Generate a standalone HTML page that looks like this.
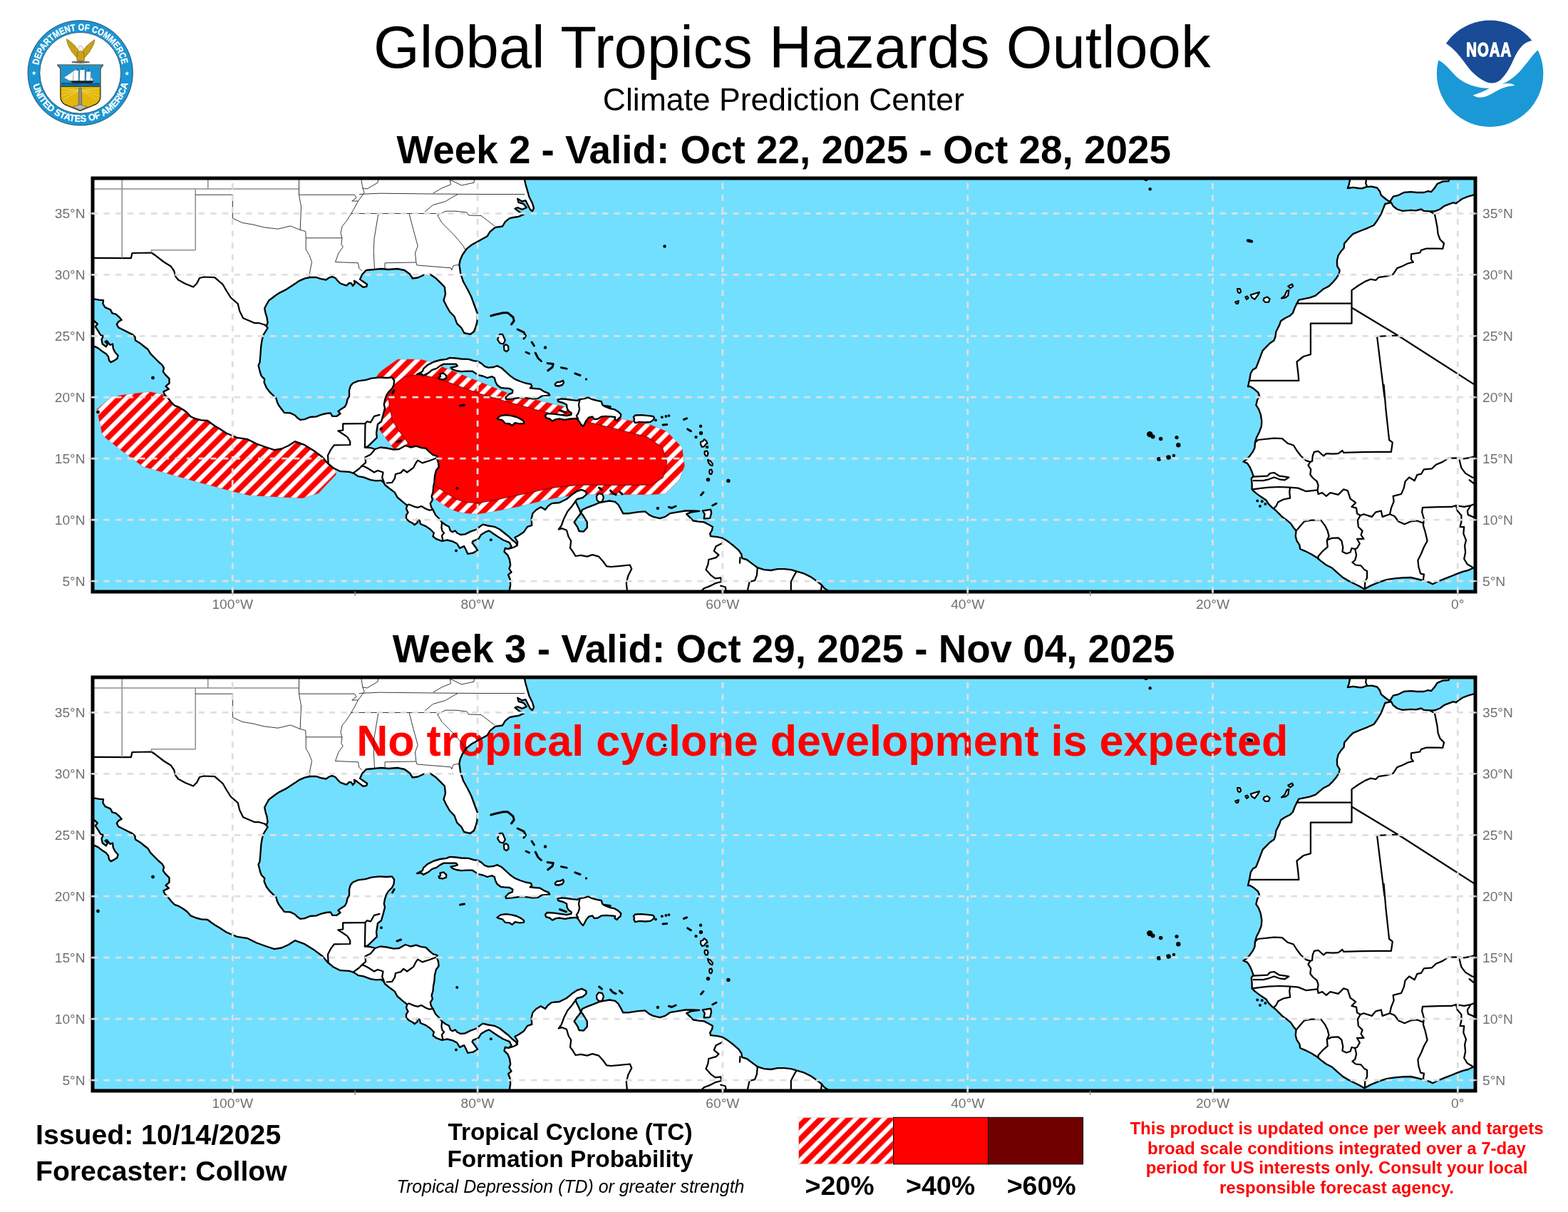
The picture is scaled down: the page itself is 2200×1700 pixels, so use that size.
<!DOCTYPE html>
<html lang="en"><head><meta charset="utf-8"><title>Global Tropics Hazards Outlook</title>
<style>html,body{margin:0;padding:0;background:#fff}body{width:2200px;height:1700px;overflow:hidden}svg{display:block}text{font-family:"Liberation Sans",sans-serif}</style></head><body>
<svg width="2200" height="1700" viewBox="0 0 2200 1700">
<defs>
<pattern id="hm" patternUnits="userSpaceOnUse" x="11.20" y="0" width="19.7" height="19.7"><rect width="19.7" height="19.7" fill="#fff"/><path d="M0 0H11.0L0 11.0Z M19.7 0V11.0L11.0 19.7H0Z" fill="#ff0000"/></pattern>
<pattern id="hl" patternUnits="userSpaceOnUse" x="16.20" y="0" width="19.7" height="19.7"><rect width="19.7" height="19.7" fill="#fff"/><path d="M0 0H11.0L0 11.0Z M19.7 0V11.0L11.0 19.7H0Z" fill="#ff0000"/></pattern>
<clipPath id="clip"><rect x="130" y="250" width="1940" height="580"/></clipPath>
</defs>
<rect width="2200" height="1700" fill="#fff"/>
<g id="header">
<text x="1111.3" y="95.2" font-size="83.2" text-anchor="middle">Global Tropics Hazards Outlook</text>
<text x="1099.3" y="154.5" font-size="44.5" text-anchor="middle">Climate Prediction Center</text>
<text x="1099.7" y="229" font-size="54.8" font-weight="bold" text-anchor="middle">Week 2 - Valid: Oct 22, 2025 - Oct 28, 2025</text>
<text x="1099.6" y="929.3" font-size="54.75" font-weight="bold" text-anchor="middle">Week 3 - Valid: Oct 29, 2025 - Nov 04, 2025</text>
<g id="doc" transform="translate(30 20) scale(0.098338)">
<circle cx="841" cy="837" r="749" fill="#1b96d3" stroke="#14304a" stroke-width="8"/>
<circle cx="841" cy="837" r="579" fill="#fff" stroke="#14304a" stroke-width="8"/>
<path id="docTop" d="M244.2 726.4A607 607 0 0 1 1435.6 714.9" fill="none"/>
<path id="docBot" d="M164.0 1007.0A698 698 0 0 0 1523.2 984.5" fill="none"/>
<text font-size="134" font-weight="bold" fill="#fff" stroke="#fff" stroke-width="3" textLength="1673" lengthAdjust="spacingAndGlyphs"><textPath href="#docTop" textLength="1673" lengthAdjust="spacingAndGlyphs">DEPARTMENT OF COMMERCE</textPath></text>
<text font-size="134" font-weight="bold" fill="#fff" stroke="#fff" stroke-width="3" textLength="1872" lengthAdjust="spacingAndGlyphs"><textPath href="#docBot" textLength="1872" lengthAdjust="spacingAndGlyphs">UNITED STATES OF AMERICA</textPath></text>
<polygon points="180,806 188,829 212,829 193,844 200,868 180,854 160,868 167,844 148,829 172,829" fill="#fff"/>
<polygon points="1507,811 1515,834 1539,834 1520,849 1527,873 1507,859 1487,873 1494,849 1475,834 1499,834" fill="#fff"/>
<g stroke="#6b5200" stroke-width="6" stroke-linejoin="round" fill="#c9a216">
<path d="M645 352L705 395L765 450L805 505L822 560L812 625L775 602L722 540L680 468L655 410Z"/>
<path d="M1045 362L987 405L928 455L888 508L872 560L882 625L918 602L970 540L1012 468L1037 415Z"/>
<path d="M800 545Q845 500 890 545L900 640Q905 665 880 668L812 668Q785 665 792 640Z"/>
</g>
<path d="M812 470Q845 430 878 470L885 515Q845 540 808 515Z" fill="#f4f1e4" stroke="#8a7a50" stroke-width="5"/>
<ellipse cx="845" cy="683" rx="130" ry="15" fill="#3b3b3b"/>
<path d="M740 683h210" stroke="#ddd" stroke-width="6"/>
<path d="M515 722H1165L1128 778V1170Q1128 1250 1060 1285L838 1378L616 1285Q558 1250 558 1170V778Z" fill="#e2b708" stroke="#1a1a1a" stroke-width="12" stroke-linejoin="round"/>
<path d="M521 728H1159L1122 780V1030H564V780Z" fill="#1b96d3"/>
<path d="M564 975H1122V1030H564Z" fill="#1273a8"/>
<path d="M564 1030H1122" stroke="#1a1a1a" stroke-width="8"/>
<g stroke="#f8e58a" stroke-width="7" opacity=".8">
<path d="M838 1085L575 1060M838 1085L575 1110M838 1085L580 1160M838 1085L600 1215M838 1085L1105 1060M838 1085L1105 1110M838 1085L1100 1160M838 1085L1080 1215"/>
</g>
<path d="M818 1060Q838 1035 858 1060L862 1300H814Z" fill="#8d8d8d" stroke="#4a4a4a" stroke-width="6"/>
<path d="M735 1318L838 1290L940 1318L838 1368Z" fill="#b9b9b9" stroke="#4a4a4a" stroke-width="6"/>
<g fill="#fff" stroke="#39506a" stroke-width="5" stroke-linejoin="round">
<path d="M605 905L790 775V950L700 955Z"/>
<path d="M745 800H815V950H735Z"/>
<path d="M835 790H905V950H828Z"/>
<path d="M925 815H990V950H920Z"/>
<path d="M990 880L1030 950H985Z"/>
</g>
<path d="M868 755V790M960 780V815M795 765V800" stroke="#222" stroke-width="5"/>
<path d="M690 950H1035L1005 982H735Z" fill="#1a1a1a"/>
<path d="M575 990Q640 975 700 992T830 992T960 992T1110 990" stroke="#0a3a5a" stroke-width="8" fill="none"/>
</g>
<g id="noaa" transform="translate(2008 20) scale(0.098338)">
<circle cx="840" cy="846" r="760" fill="#fff"/>
<clipPath id="nc"><circle cx="840" cy="846" r="760"/></clipPath>
<g clip-path="url(#nc)">
<path d="M215 420C300 470 400 575 500 720C590 850 700 930 800 970C860 992 930 985 990 935C1050 885 1110 790 1160 680C1220 545 1290 400 1440 375L1500 0H100Z" fill="#194b96"/>
<path d="M105 655C190 690 260 790 360 890C480 1000 640 1050 830 1058C760 1100 680 1128 595 1155C640 1192 720 1200 800 1165C890 1125 960 1070 1060 1040C1120 1025 1160 1020 1190 1020C1185 990 1100 975 1010 995C1100 960 1180 900 1260 820C1350 720 1430 600 1515 515L1700 500V1700H0V640Z" fill="#1b98d6"/>
</g>
<text transform="translate(826 598) scale(0.76 1)" font-size="272" font-weight="bold" fill="#fff" stroke="#fff" stroke-width="14" stroke-linejoin="miter" text-anchor="middle" letter-spacing="14">NOAA</text>
</g>
</g>

<g transform="translate(0 0)">
<rect x="130" y="250" width="1940" height="580" fill="#73dfff"/>
<g clip-path="url(#clip)">
<path d="M210.1 549.5 L232.6 554.2 L251.4 564.5 L289.0 585.1 L326.5 600.1 L382.8 615.2 L420.4 611.4 L454.2 637.7 L471.4 661.7 L471.1 665.9 L446.6 692.1 L424.1 698.7 L409.1 698.1 L350.9 694.9 L326.5 689.3 L273.9 675.2 L200.7 654.6 L182.0 640.5 L166.9 629.2 L148.2 614.2 L143.5 609.5 L136.0 573.9 L157.5 556.0 L182.0 552.8Z" fill="url(#hm)" stroke="#a00" stroke-opacity=".35" stroke-width=".6"/>
<path d="M528.1 528.8 L532.5 521.9 L558.1 504.0 L590.0 504.0 L603.1 507.5 L621.2 514.8 L713.8 551.9 L790.0 570.0 L865.0 586.2 L890.0 591.2 L911.6 595.6 L935.6 605.3 L956.9 627.6 L960.4 653.3 L953.3 672.9 L933.8 692.4 L912.5 693.8 L863.0 693.8 L827.5 693.8 L802.5 695.0 L777.5 698.8 L752.5 704.4 L727.5 710.6 L702.5 715.6 L685.0 718.8 L670.0 721.0 L655.0 720.0 L642.5 718.1 L631.2 713.8 L617.5 705.0 L607.5 697.5 L595.0 682.5 L575.0 660.0 L551.2 628.1 L531.2 601.2 L525.0 570.0Z" fill="url(#hm)" stroke="#a00" stroke-opacity=".35" stroke-width=".6"/>
<path d="M555.0 538.1 L567.5 528.1 L585.0 525.6 L598.8 527.2 L615.0 531.2 L627.5 535.6 L670.0 551.2 L715.0 564.4 L765.0 578.1 L825.0 591.9 L863.0 601.2 L895.0 609.5 L908.9 613.3 L929.3 627.6 L936.0 647.6 L930.2 670.2 L913.8 680.0 L900.0 680.4 L863.0 680.6 L815.0 680.2 L795.0 681.9 L770.0 685.0 L740.0 691.9 L715.0 696.9 L690.0 702.5 L670.0 705.6 L655.0 704.8 L642.5 701.2 L631.2 695.0 L610.0 681.2 L605.0 660.0 L576.2 626.2 L560.0 605.0 L550.6 590.0 L546.2 568.8 L545.0 557.5 L548.8 547.5Z" fill="#ff0000" stroke="#200" stroke-opacity=".85" stroke-width=".8"/>
<g fill="#fff">
<path d="M128.0 248.0 L747.5 248.0 L735.0 247.5 L737.5 258.8 L740.0 267.5 L742.5 276.2 L746.9 285.0 L749.0 291.9 L746.9 296.2 L743.8 293.8 L740.0 286.2 L737.5 281.2 L732.5 282.5 L726.2 278.8 L727.5 283.8 L735.0 286.2 L738.8 291.2 L732.5 293.8 L726.2 291.2 L722.5 292.5 L728.8 297.5 L735.0 300.6 L727.5 303.8 L720.0 305.0 L715.0 306.2 L708.8 311.2 L705.0 317.5 L695.0 318.8 L687.5 325.0 L683.8 331.2 L672.5 337.5 L661.2 343.8 L655.0 348.8 L648.8 357.5 L645.6 365.0 L644.4 371.2 L646.2 383.8 L650.0 395.0 L656.2 406.2 L661.2 416.2 L666.2 430.0 L670.0 440.0 L669.4 451.2 L668.1 456.0 L668.8 455.0 L665.0 465.0 L660.0 468.8 L651.2 467.0 L647.5 460.0 L641.2 453.8 L637.5 443.8 L631.2 437.5 L626.2 428.8 L622.5 421.2 L625.0 412.5 L623.8 402.5 L617.5 396.2 L611.2 390.0 L603.8 385.0 L595.0 385.5 L586.2 389.5 L578.8 390.5 L575.0 384.5 L567.5 379.0 L557.5 377.0 L545.0 378.0 L535.0 377.0 L525.0 378.0 L513.8 379.0 L508.1 385.0 L505.0 391.9 L515.0 398.8 L514.4 401.9 L509.4 402.8 L500.0 395.6 L496.9 393.8 L497.8 397.5 L495.0 401.0 L493.1 397.5 L490.0 396.9 L486.2 400.6 L482.5 399.4 L477.5 397.5 L473.8 393.8 L470.6 390.0 L466.2 388.1 L461.9 389.4 L457.5 392.5 L450.0 391.2 L443.8 389.0 L435.0 389.0 L427.5 390.6 L420.0 393.8 L413.8 398.1 L406.2 403.1 L400.0 406.9 L392.5 410.6 L387.5 413.8 L382.5 417.5 L377.5 421.2 L373.8 427.5 L371.2 432.5 L372.5 438.8 L374.4 445.0 L375.6 452.5 L373.8 457.5 L375.6 460.0 L372.5 465.0 L369.4 470.0 L367.5 477.5 L366.2 486.2 L365.6 495.0 L365.0 502.5 L364.4 508.8 L362.5 512.5 L363.8 517.5 L365.0 522.5 L366.9 527.5 L371.2 531.9 L370.6 536.2 L373.8 543.8 L377.5 548.8 L382.5 553.8 L387.5 558.8 L388.8 563.8 L391.2 568.8 L395.0 573.8 L398.8 578.8 L407.5 579.4 L413.8 582.5 L417.5 586.2 L421.2 588.8 L427.5 588.1 L435.0 585.0 L443.8 584.4 L450.0 581.9 L457.5 580.0 L463.8 579.4 L466.2 583.8 L472.5 583.8 L477.5 580.0 L474.4 576.9 L478.8 573.8 L483.8 570.6 L486.2 566.2 L487.5 560.0 L490.0 556.2 L490.0 547.5 L491.9 541.2 L495.0 537.5 L502.5 534.4 L512.5 533.1 L521.2 530.6 L532.5 529.4 L542.5 530.0 L550.0 529.4 L553.1 533.8 L552.5 540.0 L550.0 545.0 L545.0 550.0 L541.9 555.0 L540.0 561.2 L538.8 567.5 L540.0 572.5 L538.1 580.0 L535.0 591.2 L530.0 595.0 L528.1 607.5 L528.8 613.8 L522.5 620.0 L516.2 626.2 L511.9 627.5 L520.0 628.1 L526.2 630.0 L533.8 627.5 L542.5 628.5 L552.5 630.6 L560.0 630.0 L568.8 625.0 L576.2 627.5 L583.8 625.6 L591.2 628.1 L597.5 628.8 L602.5 633.8 L607.5 638.1 L613.8 640.0 L612.5 642.5 L615.0 648.8 L615.6 655.0 L611.9 660.0 L610.0 667.5 L609.4 676.2 L608.1 682.5 L607.5 690.0 L605.6 696.2 L606.9 701.2 L603.8 706.2 L605.0 711.2 L608.1 716.2 L611.2 722.5 L616.2 727.5 L620.0 732.5 L625.0 736.2 L630.0 738.8 L631.9 744.4 L635.0 746.2 L638.8 744.4 L641.2 747.5 L646.2 750.0 L652.5 749.4 L660.0 745.6 L668.8 742.5 L673.8 738.1 L677.5 735.6 L685.0 737.5 L693.8 738.8 L701.2 742.5 L707.5 747.5 L713.8 752.5 L718.8 757.5 L723.8 761.2 L725.6 765.0 L726.2 760.0 L722.5 753.8 L727.5 751.2 L735.0 746.2 L740.0 738.8 L746.2 736.9 L745.6 727.5 L747.5 720.0 L752.5 715.0 L758.8 711.2 L765.0 715.0 L768.8 710.0 L773.8 706.2 L785.0 705.0 L795.0 700.0 L802.5 693.8 L810.0 688.8 L816.2 686.9 L822.5 690.0 L822.5 693.8 L817.5 698.1 L810.0 700.0 L807.5 702.5 L808.8 706.2 L812.5 713.8 L815.0 720.0 L816.9 715.0 L823.8 711.9 L833.8 708.1 L841.2 705.0 L847.5 703.8 L855.0 702.5 L863.0 703.8 L867.6 708.0 L871.3 714.6 L874.2 720.2 L882.6 720.2 L893.9 718.3 L905.1 717.4 L910.8 722.1 L916.4 724.9 L925.8 727.2 L933.3 724.9 L939.9 720.2 L950.2 718.3 L961.4 716.5 L972.7 716.5 L981.2 716.8 L969.0 718.7 L963.3 721.2 L967.1 724.9 L972.7 730.5 L980.2 731.5 L987.7 732.4 L995.2 736.2 L999.9 739.0 L999.0 743.7 L996.2 748.4 L997.1 752.1 L1006.5 753.1 L1014.0 754.9 L1021.5 759.6 L1029.0 765.3 L1036.5 771.8 L1040.3 777.5 L1041.2 783.1 L1047.8 785.0 L1055.3 790.6 L1062.8 796.2 L1072.2 799.1 L1081.6 800.0 L1091.0 798.1 L1100.4 798.1 L1109.8 799.1 L1119.1 801.9 L1128.5 804.7 L1137.9 809.4 L1147.3 816.0 L1152.9 820.7 L1156.7 825.3 L1164.2 830.0 L1164.0 834.0 L715.0 834.0 L715.0 827.5 L716.2 820.0 L715.6 812.5 L713.1 806.2 L717.5 802.5 L714.4 797.5 L716.2 792.5 L715.0 785.0 L712.5 778.8 L707.5 773.8 L708.8 768.8 L713.8 770.0 L717.5 766.2 L715.0 761.2 L706.2 757.5 L700.0 753.8 L692.5 748.8 L686.2 744.4 L681.2 746.2 L675.0 750.0 L671.2 756.2 L663.8 758.8 L662.5 761.2 L666.2 766.2 L670.0 771.9 L663.8 775.6 L656.2 776.9 L653.8 771.2 L651.2 766.2 L645.0 768.8 L641.2 762.5 L635.0 759.4 L627.5 757.5 L620.0 758.8 L612.5 756.2 L607.5 752.5 L608.8 747.5 L603.8 742.5 L597.5 738.1 L590.0 735.0 L588.8 730.0 L585.0 728.8 L586.2 732.5 L581.9 736.2 L578.8 733.8 L573.8 731.2 L570.0 727.5 L570.0 722.5 L572.5 718.8 L570.0 713.8 L571.2 708.8 L565.0 703.8 L557.5 697.5 L553.8 690.6 L546.2 685.0 L540.0 680.0 L538.8 677.5 L535.0 673.8 L527.5 674.4 L520.0 673.1 L510.0 669.4 L502.5 668.1 L496.2 663.8 L490.0 661.9 L477.5 661.2 L467.5 656.2 L460.0 650.0 L452.5 641.2 L440.0 631.9 L427.5 624.2 L413.8 619.2 L405.0 625.0 L395.0 629.5 L385.0 631.2 L372.5 627.0 L360.0 622.5 L347.5 616.2 L332.5 613.8 L317.5 607.5 L307.5 601.0 L302.5 598.1 L296.2 593.8 L291.2 590.0 L282.5 589.4 L275.0 587.5 L267.5 584.4 L262.5 578.8 L257.5 575.0 L251.2 571.2 L245.0 568.8 L240.0 563.8 L235.0 557.5 L231.2 553.8 L229.4 549.4 L236.9 545.6 L232.5 541.9 L237.5 537.5 L237.5 531.2 L232.5 526.2 L228.8 521.2 L230.0 516.2 L227.5 511.9 L222.5 507.5 L217.5 502.5 L211.2 496.2 L207.5 490.0 L202.5 486.2 L196.2 481.2 L190.0 477.5 L189.4 472.5 L186.2 469.4 L177.5 465.0 L172.5 462.5 L166.2 459.4 L163.8 455.0 L166.2 451.2 L170.6 448.8 L167.5 445.0 L162.5 440.6 L157.5 439.4 L155.0 434.4 L147.5 431.2 L144.4 426.2 L145.0 421.2 L138.8 420.6 L131.9 419.4 L126.2 419.0Z"/>
<path d="M126.2 448.8 L131.9 450.0 L136.9 454.4 L133.8 458.1 L137.5 463.8 L141.2 470.0 L145.0 471.2 L142.5 476.2 L143.8 482.5 L148.8 486.2 L151.2 482.5 L147.5 479.4 L150.0 478.1 L154.4 483.8 L158.1 482.5 L158.8 488.8 L161.2 493.8 L165.6 498.8 L164.4 503.1 L160.6 505.6 L155.6 508.1 L153.1 505.6 L151.9 500.0 L148.8 496.2 L143.8 493.1 L137.5 488.1 L131.9 485.6 L126.2 485.0Z"/>
<path d="M2073.0 272.9 L2067.7 273.4 L2059.8 275.7 L2052.3 278.5 L2046.7 282.2 L2042.9 285.4 L2039.2 284.1 L2031.7 286.9 L2026.0 289.2 L2020.4 293.5 L2012.9 296.3 L2005.4 296.3 L1997.9 295.9 L1994.1 293.5 L1986.6 295.4 L1979.1 294.8 L1967.8 295.9 L1960.3 293.5 L1954.7 289.2 L1951.9 284.1 L1943.4 286.0 L1941.6 290.7 L1937.8 300.1 L1932.2 309.5 L1927.5 316.0 L1919.0 319.8 L1909.6 323.5 L1898.4 328.2 L1892.7 333.9 L1886.2 341.4 L1885.6 347.9 L1881.5 352.6 L1877.7 358.3 L1875.9 365.8 L1876.2 373.3 L1879.6 378.9 L1878.7 384.6 L1874.9 390.2 L1870.2 395.8 L1864.6 401.4 L1857.1 405.2 L1851.4 409.9 L1845.8 414.6 L1838.3 417.4 L1828.9 419.3 L1822.3 420.6 L1819.5 425.9 L1816.7 431.5 L1813.9 439.0 L1810.1 442.7 L1802.6 446.5 L1797.0 450.3 L1795.1 455.9 L1792.3 461.5 L1790.4 465.3 L1789.5 471.8 L1787.6 477.5 L1782.0 481.2 L1776.4 486.9 L1771.7 491.6 L1768.8 499.1 L1766.0 506.6 L1762.3 516.0 L1757.6 518.8 L1754.8 523.5 L1753.5 531.0 L1751.0 542.2 L1753.8 541.9 L1759.5 545.6 L1765.1 550.3 L1767.0 555.0 L1764.2 560.7 L1762.3 568.2 L1766.0 573.8 L1768.8 581.3 L1770.3 590.7 L1769.8 598.2 L1767.0 605.7 L1763.2 613.2 L1761.0 620.7 L1760.4 628.2 L1757.6 633.9 L1752.9 640.4 L1748.2 645.1 L1744.4 647.4 L1750.1 649.8 L1753.8 655.5 L1756.6 662.0 L1758.5 667.7 L1755.7 671.4 L1756.6 678.9 L1756.6 686.4 L1760.4 690.2 L1765.1 693.9 L1770.7 697.7 L1776.4 701.4 L1780.1 707.1 L1784.8 711.8 L1789.5 715.5 L1794.2 720.2 L1798.9 724.9 L1805.5 729.6 L1811.1 734.3 L1814.8 739.9 L1818.6 744.6 L1817.7 752.1 L1819.5 758.7 L1823.3 764.3 L1824.2 770.0 L1830.8 772.8 L1840.2 777.5 L1847.7 782.2 L1853.3 786.9 L1860.8 792.5 L1868.3 796.2 L1875.9 802.8 L1883.4 809.4 L1890.9 814.1 L1900.3 818.8 L1907.8 822.5 L1914.3 826.3 L1922.8 821.6 L1934.0 816.9 L1945.3 813.1 L1956.6 811.3 L1967.8 810.3 L1979.1 810.0 L1988.5 812.2 L1997.9 814.5 L2005.4 816.9 L2010.1 819.3 L2016.6 816.0 L2026.0 812.2 L2035.4 808.5 L2044.8 804.7 L2052.3 801.9 L2059.8 800.0 L2067.7 796.2 L2073.0 795.3Z"/>
<path d="M1894.6 249.4 L1892.7 258.8 L1890.9 264.0 L1898.4 262.9 L1905.9 264.0 L1910.6 264.4 L1917.2 262.2 L1924.7 261.6 L1932.2 263.5 L1935.9 268.2 L1937.8 273.8 L1943.4 278.5 L1950.0 283.2 L1954.7 275.7 L1962.2 273.8 L1969.7 270.0 L1979.1 269.1 L1988.5 270.0 L1997.9 270.0 L2003.5 268.2 L2008.2 269.1 L2012.9 263.5 L2016.6 257.8 L2024.2 254.6 L2032.6 254.1 L2033.5 249.4Z"/>
<path d="M585.0 525.0 L592.5 521.2 L594.4 516.9 L600.0 511.9 L608.8 507.5 L617.5 505.0 L626.2 503.8 L631.2 501.9 L640.0 502.5 L647.5 503.5 L657.5 503.8 L665.0 506.2 L670.0 506.9 L675.0 509.4 L680.0 513.8 L685.0 515.6 L692.5 515.0 L697.5 513.1 L703.8 516.2 L710.0 521.9 L716.2 527.5 L722.5 531.9 L730.0 535.0 L737.5 537.5 L745.0 538.8 L746.2 541.9 L743.8 544.4 L750.0 545.0 L757.5 545.6 L763.8 549.4 L770.0 551.9 L771.2 554.4 L766.2 555.0 L760.0 555.6 L755.0 558.8 L747.5 559.4 L737.5 558.1 L727.5 558.1 L717.5 559.4 L710.0 560.0 L709.4 557.5 L713.8 553.1 L718.8 551.2 L719.4 547.5 L715.0 545.0 L707.5 544.4 L702.5 543.8 L697.5 540.0 L695.0 535.0 L693.8 530.0 L690.0 528.1 L683.8 530.0 L677.5 527.5 L671.2 526.2 L667.5 523.8 L662.5 520.6 L655.0 520.6 L647.5 521.2 L640.0 520.0 L635.0 518.1 L632.5 515.6 L638.8 514.4 L641.9 513.1 L640.0 510.6 L632.5 510.6 L622.5 510.6 L617.5 513.1 L612.5 516.9 L606.2 518.8 L601.2 523.1 L593.8 526.9 L591.2 524.4Z"/>
<path d="M617.5 524.4 L622.5 523.5 L626.2 526.9 L626.0 530.6 L621.2 532.5 L616.2 531.5 L615.6 529.4 L618.1 528.1Z"/>
<path d="M697.5 586.9 L702.5 583.1 L710.0 582.2 L717.5 583.1 L725.0 585.0 L731.2 588.1 L735.0 591.2 L735.0 593.8 L728.8 594.4 L722.5 593.1 L718.8 596.9 L715.0 594.4 L708.8 593.8 L705.0 589.4 L700.0 588.1Z"/>
<path d="M782.5 560.6 L787.5 559.4 L795.0 560.0 L802.5 561.2 L810.0 561.9 L813.8 560.0 L821.2 558.8 L825.0 557.5 L830.0 559.8 L837.5 561.9 L843.8 563.1 L845.0 567.5 L848.1 570.0 L856.2 573.1 L862.5 574.4 L867.5 577.5 L871.2 581.2 L870.6 585.0 L867.5 587.5 L865.6 590.0 L862.5 588.1 L863.1 585.0 L857.5 584.4 L850.0 583.8 L843.8 584.4 L838.8 587.5 L833.8 588.1 L831.2 584.4 L826.2 585.6 L822.5 590.0 L820.0 595.0 L818.1 598.1 L815.0 595.0 L811.9 590.0 L808.8 586.9 L800.0 587.5 L792.5 588.8 L785.0 587.5 L780.0 588.1 L775.0 590.6 L771.2 587.5 L766.2 586.2 L765.0 583.1 L767.5 580.0 L777.5 580.6 L786.2 581.9 L795.0 583.1 L801.2 581.9 L801.9 579.4 L797.5 576.2 L795.6 572.5 L795.0 567.5 L790.0 565.0 L783.1 563.1Z"/>
<path d="M888.8 585.0 L891.2 582.5 L900.0 582.2 L910.0 583.1 L916.2 583.8 L918.1 586.2 L916.2 589.4 L912.5 591.9 L905.0 592.5 L897.5 591.9 L891.2 593.1 L889.4 590.0 L890.0 587.5Z"/>
<path d="M985.9 716.5 L997.1 714.6 L998.1 719.3 L996.2 726.8 L987.7 727.4 L988.7 721.2Z"/>
<path d="M778.8 538.8 L781.2 536.2 L786.2 535.6 L790.0 533.8 L791.0 536.9 L788.8 540.0 L783.8 541.5 L779.4 541.0Z"/>
<path d="M1736.0 405.2 L1739.7 405.2 L1741.1 409.0 L1739.2 411.2 L1736.9 409.9Z"/>
<path d="M1733.2 423.6 L1737.9 422.1 L1736.9 425.9 L1734.7 425.9Z"/>
<path d="M1747.3 416.5 L1750.1 415.5 L1751.6 418.0 L1749.1 419.8Z"/>
<path d="M1754.8 413.6 L1762.3 411.2 L1767.0 409.9 L1765.1 413.6 L1760.4 419.8 L1756.6 417.4Z"/>
<path d="M1773.5 418.3 L1778.2 416.5 L1781.6 419.3 L1780.1 423.6 L1775.4 424.0 L1772.6 421.2Z"/>
<path d="M1797.9 418.3 L1802.6 414.6 L1805.5 408.0 L1808.3 407.1 L1807.3 414.6 L1803.6 417.4Z"/>
<path d="M1807.3 401.4 L1813.0 398.6 L1814.3 401.4 L1810.1 404.3Z"/>
<path d="M706.9 485.0 L710.0 483.1 L713.1 485.6 L713.5 490.6 L710.6 493.1 L707.5 491.2Z"/>
<path d="M983.1 620.0 L986.2 618.8 L988.1 616.2 L991.2 618.8 L992.5 621.9 L990.0 623.1 L988.1 626.2 L985.0 626.9 L983.1 623.8Z"/>
<path d="M988.8 633.1 L991.9 632.5 L993.5 635.6 L992.5 639.4 L990.0 639.4 L988.5 636.2Z"/>
<path d="M993.1 645.0 L996.2 646.2 L1000.0 650.6 L999.4 653.1 L996.9 652.5 L994.0 648.8Z"/>
<path d="M995.6 659.4 L998.1 658.5 L999.4 661.9 L998.1 665.2 L996.0 665.0 L995.2 661.9Z"/>
<path d="M836.9 696.2 L840.0 692.2 L845.0 693.1 L846.9 697.5 L845.6 701.9 L843.5 704.4 L840.0 703.8 L837.5 701.2Z"/>
<path d="M701.2 468.8 L705.0 468.8 L708.8 477.5 L706.2 482.5 L701.2 481.2 L698.0 476.2Z"/>
<path d="M815.0 720.0 L810.0 726.2 L805.6 732.5 L810.0 738.8 L812.5 745.0 L818.8 745.6 L823.8 740.0 L823.8 732.5 L820.0 726.2 L816.9 721.2Z" fill="#73dfff"/>
</g>
<g stroke="#000" stroke-width="2.35" stroke-linejoin="round" stroke-linecap="round" fill="none">
<path d="M128.0 248.0 L747.5 248.0 L735.0 247.5 L737.5 258.8 L740.0 267.5 L742.5 276.2 L746.9 285.0 L749.0 291.9 L746.9 296.2 L743.8 293.8 L740.0 286.2 L737.5 281.2 L732.5 282.5 L726.2 278.8 L727.5 283.8 L735.0 286.2 L738.8 291.2 L732.5 293.8 L726.2 291.2 L722.5 292.5 L728.8 297.5 L735.0 300.6 L727.5 303.8 L720.0 305.0 L715.0 306.2 L708.8 311.2 L705.0 317.5 L695.0 318.8 L687.5 325.0 L683.8 331.2 L672.5 337.5 L661.2 343.8 L655.0 348.8 L648.8 357.5 L645.6 365.0 L644.4 371.2 L646.2 383.8 L650.0 395.0 L656.2 406.2 L661.2 416.2 L666.2 430.0 L670.0 440.0 L669.4 451.2 L668.1 456.0 L668.8 455.0 L665.0 465.0 L660.0 468.8 L651.2 467.0 L647.5 460.0 L641.2 453.8 L637.5 443.8 L631.2 437.5 L626.2 428.8 L622.5 421.2 L625.0 412.5 L623.8 402.5 L617.5 396.2 L611.2 390.0 L603.8 385.0 L595.0 385.5 L586.2 389.5 L578.8 390.5 L575.0 384.5 L567.5 379.0 L557.5 377.0 L545.0 378.0 L535.0 377.0 L525.0 378.0 L513.8 379.0 L508.1 385.0 L505.0 391.9 L515.0 398.8 L514.4 401.9 L509.4 402.8 L500.0 395.6 L496.9 393.8 L497.8 397.5 L495.0 401.0 L493.1 397.5 L490.0 396.9 L486.2 400.6 L482.5 399.4 L477.5 397.5 L473.8 393.8 L470.6 390.0 L466.2 388.1 L461.9 389.4 L457.5 392.5 L450.0 391.2 L443.8 389.0 L435.0 389.0 L427.5 390.6 L420.0 393.8 L413.8 398.1 L406.2 403.1 L400.0 406.9 L392.5 410.6 L387.5 413.8 L382.5 417.5 L377.5 421.2 L373.8 427.5 L371.2 432.5 L372.5 438.8 L374.4 445.0 L375.6 452.5 L373.8 457.5 L375.6 460.0 L372.5 465.0 L369.4 470.0 L367.5 477.5 L366.2 486.2 L365.6 495.0 L365.0 502.5 L364.4 508.8 L362.5 512.5 L363.8 517.5 L365.0 522.5 L366.9 527.5 L371.2 531.9 L370.6 536.2 L373.8 543.8 L377.5 548.8 L382.5 553.8 L387.5 558.8 L388.8 563.8 L391.2 568.8 L395.0 573.8 L398.8 578.8 L407.5 579.4 L413.8 582.5 L417.5 586.2 L421.2 588.8 L427.5 588.1 L435.0 585.0 L443.8 584.4 L450.0 581.9 L457.5 580.0 L463.8 579.4 L466.2 583.8 L472.5 583.8 L477.5 580.0 L474.4 576.9 L478.8 573.8 L483.8 570.6 L486.2 566.2 L487.5 560.0 L490.0 556.2 L490.0 547.5 L491.9 541.2 L495.0 537.5 L502.5 534.4 L512.5 533.1 L521.2 530.6 L532.5 529.4 L542.5 530.0 L550.0 529.4 L553.1 533.8 L552.5 540.0 L550.0 545.0 L545.0 550.0 L541.9 555.0 L540.0 561.2 L538.8 567.5 L540.0 572.5 L538.1 580.0 L535.0 591.2 L530.0 595.0 L528.1 607.5 L528.8 613.8 L522.5 620.0 L516.2 626.2 L511.9 627.5 L520.0 628.1 L526.2 630.0 L533.8 627.5 L542.5 628.5 L552.5 630.6 L560.0 630.0 L568.8 625.0 L576.2 627.5 L583.8 625.6 L591.2 628.1 L597.5 628.8 L602.5 633.8 L607.5 638.1 L613.8 640.0 L612.5 642.5 L615.0 648.8 L615.6 655.0 L611.9 660.0 L610.0 667.5 L609.4 676.2 L608.1 682.5 L607.5 690.0 L605.6 696.2 L606.9 701.2 L603.8 706.2 L605.0 711.2 L608.1 716.2 L611.2 722.5 L616.2 727.5 L620.0 732.5 L625.0 736.2 L630.0 738.8 L631.9 744.4 L635.0 746.2 L638.8 744.4 L641.2 747.5 L646.2 750.0 L652.5 749.4 L660.0 745.6 L668.8 742.5 L673.8 738.1 L677.5 735.6 L685.0 737.5 L693.8 738.8 L701.2 742.5 L707.5 747.5 L713.8 752.5 L718.8 757.5 L723.8 761.2 L725.6 765.0 L726.2 760.0 L722.5 753.8 L727.5 751.2 L735.0 746.2 L740.0 738.8 L746.2 736.9 L745.6 727.5 L747.5 720.0 L752.5 715.0 L758.8 711.2 L765.0 715.0 L768.8 710.0 L773.8 706.2 L785.0 705.0 L795.0 700.0 L802.5 693.8 L810.0 688.8 L816.2 686.9 L822.5 690.0 L822.5 693.8 L817.5 698.1 L810.0 700.0 L807.5 702.5 L808.8 706.2 L812.5 713.8 L815.0 720.0 L816.9 715.0 L823.8 711.9 L833.8 708.1 L841.2 705.0 L847.5 703.8 L855.0 702.5 L863.0 703.8 L867.6 708.0 L871.3 714.6 L874.2 720.2 L882.6 720.2 L893.9 718.3 L905.1 717.4 L910.8 722.1 L916.4 724.9 L925.8 727.2 L933.3 724.9 L939.9 720.2 L950.2 718.3 L961.4 716.5 L972.7 716.5 L981.2 716.8 L969.0 718.7 L963.3 721.2 L967.1 724.9 L972.7 730.5 L980.2 731.5 L987.7 732.4 L995.2 736.2 L999.9 739.0 L999.0 743.7 L996.2 748.4 L997.1 752.1 L1006.5 753.1 L1014.0 754.9 L1021.5 759.6 L1029.0 765.3 L1036.5 771.8 L1040.3 777.5 L1041.2 783.1 L1047.8 785.0 L1055.3 790.6 L1062.8 796.2 L1072.2 799.1 L1081.6 800.0 L1091.0 798.1 L1100.4 798.1 L1109.8 799.1 L1119.1 801.9 L1128.5 804.7 L1137.9 809.4 L1147.3 816.0 L1152.9 820.7 L1156.7 825.3 L1164.2 830.0 L1164.0 834.0 L715.0 834.0 L715.0 827.5 L716.2 820.0 L715.6 812.5 L713.1 806.2 L717.5 802.5 L714.4 797.5 L716.2 792.5 L715.0 785.0 L712.5 778.8 L707.5 773.8 L708.8 768.8 L713.8 770.0 L717.5 766.2 L715.0 761.2 L706.2 757.5 L700.0 753.8 L692.5 748.8 L686.2 744.4 L681.2 746.2 L675.0 750.0 L671.2 756.2 L663.8 758.8 L662.5 761.2 L666.2 766.2 L670.0 771.9 L663.8 775.6 L656.2 776.9 L653.8 771.2 L651.2 766.2 L645.0 768.8 L641.2 762.5 L635.0 759.4 L627.5 757.5 L620.0 758.8 L612.5 756.2 L607.5 752.5 L608.8 747.5 L603.8 742.5 L597.5 738.1 L590.0 735.0 L588.8 730.0 L585.0 728.8 L586.2 732.5 L581.9 736.2 L578.8 733.8 L573.8 731.2 L570.0 727.5 L570.0 722.5 L572.5 718.8 L570.0 713.8 L571.2 708.8 L565.0 703.8 L557.5 697.5 L553.8 690.6 L546.2 685.0 L540.0 680.0 L538.8 677.5 L535.0 673.8 L527.5 674.4 L520.0 673.1 L510.0 669.4 L502.5 668.1 L496.2 663.8 L490.0 661.9 L477.5 661.2 L467.5 656.2 L460.0 650.0 L452.5 641.2 L440.0 631.9 L427.5 624.2 L413.8 619.2 L405.0 625.0 L395.0 629.5 L385.0 631.2 L372.5 627.0 L360.0 622.5 L347.5 616.2 L332.5 613.8 L317.5 607.5 L307.5 601.0 L302.5 598.1 L296.2 593.8 L291.2 590.0 L282.5 589.4 L275.0 587.5 L267.5 584.4 L262.5 578.8 L257.5 575.0 L251.2 571.2 L245.0 568.8 L240.0 563.8 L235.0 557.5 L231.2 553.8 L229.4 549.4 L236.9 545.6 L232.5 541.9 L237.5 537.5 L237.5 531.2 L232.5 526.2 L228.8 521.2 L230.0 516.2 L227.5 511.9 L222.5 507.5 L217.5 502.5 L211.2 496.2 L207.5 490.0 L202.5 486.2 L196.2 481.2 L190.0 477.5 L189.4 472.5 L186.2 469.4 L177.5 465.0 L172.5 462.5 L166.2 459.4 L163.8 455.0 L166.2 451.2 L170.6 448.8 L167.5 445.0 L162.5 440.6 L157.5 439.4 L155.0 434.4 L147.5 431.2 L144.4 426.2 L145.0 421.2 L138.8 420.6 L131.9 419.4 L126.2 419.0Z"/>
<path d="M126.2 448.8 L131.9 450.0 L136.9 454.4 L133.8 458.1 L137.5 463.8 L141.2 470.0 L145.0 471.2 L142.5 476.2 L143.8 482.5 L148.8 486.2 L151.2 482.5 L147.5 479.4 L150.0 478.1 L154.4 483.8 L158.1 482.5 L158.8 488.8 L161.2 493.8 L165.6 498.8 L164.4 503.1 L160.6 505.6 L155.6 508.1 L153.1 505.6 L151.9 500.0 L148.8 496.2 L143.8 493.1 L137.5 488.1 L131.9 485.6 L126.2 485.0Z"/>
<path d="M2073.0 272.9 L2067.7 273.4 L2059.8 275.7 L2052.3 278.5 L2046.7 282.2 L2042.9 285.4 L2039.2 284.1 L2031.7 286.9 L2026.0 289.2 L2020.4 293.5 L2012.9 296.3 L2005.4 296.3 L1997.9 295.9 L1994.1 293.5 L1986.6 295.4 L1979.1 294.8 L1967.8 295.9 L1960.3 293.5 L1954.7 289.2 L1951.9 284.1 L1943.4 286.0 L1941.6 290.7 L1937.8 300.1 L1932.2 309.5 L1927.5 316.0 L1919.0 319.8 L1909.6 323.5 L1898.4 328.2 L1892.7 333.9 L1886.2 341.4 L1885.6 347.9 L1881.5 352.6 L1877.7 358.3 L1875.9 365.8 L1876.2 373.3 L1879.6 378.9 L1878.7 384.6 L1874.9 390.2 L1870.2 395.8 L1864.6 401.4 L1857.1 405.2 L1851.4 409.9 L1845.8 414.6 L1838.3 417.4 L1828.9 419.3 L1822.3 420.6 L1819.5 425.9 L1816.7 431.5 L1813.9 439.0 L1810.1 442.7 L1802.6 446.5 L1797.0 450.3 L1795.1 455.9 L1792.3 461.5 L1790.4 465.3 L1789.5 471.8 L1787.6 477.5 L1782.0 481.2 L1776.4 486.9 L1771.7 491.6 L1768.8 499.1 L1766.0 506.6 L1762.3 516.0 L1757.6 518.8 L1754.8 523.5 L1753.5 531.0 L1751.0 542.2 L1753.8 541.9 L1759.5 545.6 L1765.1 550.3 L1767.0 555.0 L1764.2 560.7 L1762.3 568.2 L1766.0 573.8 L1768.8 581.3 L1770.3 590.7 L1769.8 598.2 L1767.0 605.7 L1763.2 613.2 L1761.0 620.7 L1760.4 628.2 L1757.6 633.9 L1752.9 640.4 L1748.2 645.1 L1744.4 647.4 L1750.1 649.8 L1753.8 655.5 L1756.6 662.0 L1758.5 667.7 L1755.7 671.4 L1756.6 678.9 L1756.6 686.4 L1760.4 690.2 L1765.1 693.9 L1770.7 697.7 L1776.4 701.4 L1780.1 707.1 L1784.8 711.8 L1789.5 715.5 L1794.2 720.2 L1798.9 724.9 L1805.5 729.6 L1811.1 734.3 L1814.8 739.9 L1818.6 744.6 L1817.7 752.1 L1819.5 758.7 L1823.3 764.3 L1824.2 770.0 L1830.8 772.8 L1840.2 777.5 L1847.7 782.2 L1853.3 786.9 L1860.8 792.5 L1868.3 796.2 L1875.9 802.8 L1883.4 809.4 L1890.9 814.1 L1900.3 818.8 L1907.8 822.5 L1914.3 826.3 L1922.8 821.6 L1934.0 816.9 L1945.3 813.1 L1956.6 811.3 L1967.8 810.3 L1979.1 810.0 L1988.5 812.2 L1997.9 814.5 L2005.4 816.9 L2010.1 819.3 L2016.6 816.0 L2026.0 812.2 L2035.4 808.5 L2044.8 804.7 L2052.3 801.9 L2059.8 800.0 L2067.7 796.2 L2073.0 795.3Z"/>
<path d="M1894.6 249.4 L1892.7 258.8 L1890.9 264.0 L1898.4 262.9 L1905.9 264.0 L1910.6 264.4 L1917.2 262.2 L1924.7 261.6 L1932.2 263.5 L1935.9 268.2 L1937.8 273.8 L1943.4 278.5 L1950.0 283.2 L1954.7 275.7 L1962.2 273.8 L1969.7 270.0 L1979.1 269.1 L1988.5 270.0 L1997.9 270.0 L2003.5 268.2 L2008.2 269.1 L2012.9 263.5 L2016.6 257.8 L2024.2 254.6 L2032.6 254.1 L2033.5 249.4Z"/>
<path d="M585.0 525.0 L592.5 521.2 L594.4 516.9 L600.0 511.9 L608.8 507.5 L617.5 505.0 L626.2 503.8 L631.2 501.9 L640.0 502.5 L647.5 503.5 L657.5 503.8 L665.0 506.2 L670.0 506.9 L675.0 509.4 L680.0 513.8 L685.0 515.6 L692.5 515.0 L697.5 513.1 L703.8 516.2 L710.0 521.9 L716.2 527.5 L722.5 531.9 L730.0 535.0 L737.5 537.5 L745.0 538.8 L746.2 541.9 L743.8 544.4 L750.0 545.0 L757.5 545.6 L763.8 549.4 L770.0 551.9 L771.2 554.4 L766.2 555.0 L760.0 555.6 L755.0 558.8 L747.5 559.4 L737.5 558.1 L727.5 558.1 L717.5 559.4 L710.0 560.0 L709.4 557.5 L713.8 553.1 L718.8 551.2 L719.4 547.5 L715.0 545.0 L707.5 544.4 L702.5 543.8 L697.5 540.0 L695.0 535.0 L693.8 530.0 L690.0 528.1 L683.8 530.0 L677.5 527.5 L671.2 526.2 L667.5 523.8 L662.5 520.6 L655.0 520.6 L647.5 521.2 L640.0 520.0 L635.0 518.1 L632.5 515.6 L638.8 514.4 L641.9 513.1 L640.0 510.6 L632.5 510.6 L622.5 510.6 L617.5 513.1 L612.5 516.9 L606.2 518.8 L601.2 523.1 L593.8 526.9 L591.2 524.4Z"/>
<path d="M617.5 524.4 L622.5 523.5 L626.2 526.9 L626.0 530.6 L621.2 532.5 L616.2 531.5 L615.6 529.4 L618.1 528.1Z"/>
<path d="M697.5 586.9 L702.5 583.1 L710.0 582.2 L717.5 583.1 L725.0 585.0 L731.2 588.1 L735.0 591.2 L735.0 593.8 L728.8 594.4 L722.5 593.1 L718.8 596.9 L715.0 594.4 L708.8 593.8 L705.0 589.4 L700.0 588.1Z"/>
<path d="M782.5 560.6 L787.5 559.4 L795.0 560.0 L802.5 561.2 L810.0 561.9 L813.8 560.0 L821.2 558.8 L825.0 557.5 L830.0 559.8 L837.5 561.9 L843.8 563.1 L845.0 567.5 L848.1 570.0 L856.2 573.1 L862.5 574.4 L867.5 577.5 L871.2 581.2 L870.6 585.0 L867.5 587.5 L865.6 590.0 L862.5 588.1 L863.1 585.0 L857.5 584.4 L850.0 583.8 L843.8 584.4 L838.8 587.5 L833.8 588.1 L831.2 584.4 L826.2 585.6 L822.5 590.0 L820.0 595.0 L818.1 598.1 L815.0 595.0 L811.9 590.0 L808.8 586.9 L800.0 587.5 L792.5 588.8 L785.0 587.5 L780.0 588.1 L775.0 590.6 L771.2 587.5 L766.2 586.2 L765.0 583.1 L767.5 580.0 L777.5 580.6 L786.2 581.9 L795.0 583.1 L801.2 581.9 L801.9 579.4 L797.5 576.2 L795.6 572.5 L795.0 567.5 L790.0 565.0 L783.1 563.1Z"/>
<path d="M888.8 585.0 L891.2 582.5 L900.0 582.2 L910.0 583.1 L916.2 583.8 L918.1 586.2 L916.2 589.4 L912.5 591.9 L905.0 592.5 L897.5 591.9 L891.2 593.1 L889.4 590.0 L890.0 587.5Z"/>
<path d="M985.9 716.5 L997.1 714.6 L998.1 719.3 L996.2 726.8 L987.7 727.4 L988.7 721.2Z"/>
<path d="M778.8 538.8 L781.2 536.2 L786.2 535.6 L790.0 533.8 L791.0 536.9 L788.8 540.0 L783.8 541.5 L779.4 541.0Z"/>
<path d="M1736.0 405.2 L1739.7 405.2 L1741.1 409.0 L1739.2 411.2 L1736.9 409.9Z" stroke-width="2.2"/>
<path d="M1733.2 423.6 L1737.9 422.1 L1736.9 425.9 L1734.7 425.9Z" stroke-width="2.2"/>
<path d="M1747.3 416.5 L1750.1 415.5 L1751.6 418.0 L1749.1 419.8Z" stroke-width="2.2"/>
<path d="M1754.8 413.6 L1762.3 411.2 L1767.0 409.9 L1765.1 413.6 L1760.4 419.8 L1756.6 417.4Z" stroke-width="2.2"/>
<path d="M1773.5 418.3 L1778.2 416.5 L1781.6 419.3 L1780.1 423.6 L1775.4 424.0 L1772.6 421.2Z" stroke-width="2.2"/>
<path d="M1797.9 418.3 L1802.6 414.6 L1805.5 408.0 L1808.3 407.1 L1807.3 414.6 L1803.6 417.4Z" stroke-width="2.2"/>
<path d="M1807.3 401.4 L1813.0 398.6 L1814.3 401.4 L1810.1 404.3Z" stroke-width="2.2"/>
<path d="M706.9 485.0 L710.0 483.1 L713.1 485.6 L713.5 490.6 L710.6 493.1 L707.5 491.2Z" stroke-width="2.2"/>
<path d="M983.1 620.0 L986.2 618.8 L988.1 616.2 L991.2 618.8 L992.5 621.9 L990.0 623.1 L988.1 626.2 L985.0 626.9 L983.1 623.8Z" stroke-width="2.2"/>
<path d="M988.8 633.1 L991.9 632.5 L993.5 635.6 L992.5 639.4 L990.0 639.4 L988.5 636.2Z" stroke-width="2.2"/>
<path d="M993.1 645.0 L996.2 646.2 L1000.0 650.6 L999.4 653.1 L996.9 652.5 L994.0 648.8Z" stroke-width="2.2"/>
<path d="M995.6 659.4 L998.1 658.5 L999.4 661.9 L998.1 665.2 L996.0 665.0 L995.2 661.9Z" stroke-width="2.2"/>
<path d="M836.9 696.2 L840.0 692.2 L845.0 693.1 L846.9 697.5 L845.6 701.9 L843.5 704.4 L840.0 703.8 L837.5 701.2Z" stroke-width="2.2"/>
<path d="M701.2 468.8 L705.0 468.8 L708.8 477.5 L706.2 482.5 L701.2 481.2 L698.0 476.2Z" stroke-width="2.2"/>
<path d="M815.0 720.0 L810.0 726.2 L805.6 732.5 L810.0 738.8 L812.5 745.0 L818.8 745.6 L823.8 740.0 L823.8 732.5 L820.0 726.2 L816.9 721.2Z"/>
</g>
<g stroke="#000" stroke-width="2.25" stroke-linejoin="round" stroke-linecap="round" fill="none">
<path d="M127.5 361.8 L183.8 362.0 L185.5 355.0 L212.5 354.5 L218.8 358.8 L230.0 367.5 L240.0 373.8 L244.2 380.0 L246.2 387.5 L250.0 392.5 L260.0 398.0 L271.2 402.5 L276.2 397.5 L280.0 390.0 L286.2 388.5 L301.2 389.2 L312.5 398.8 L317.5 407.5 L323.8 417.5 L333.8 426.2 L336.2 436.2 L341.2 446.2 L357.5 453.2 L363.8 453.2 L371.2 455.5 L373.8 457.5 M460.6 650.0 L460.0 638.8 L463.8 631.2 L468.8 624.4 L491.2 624.0 L491.2 619.4 L487.5 613.1 L481.2 608.8 L474.4 604.4 L481.2 603.5 L481.2 594.4 L512.5 594.0 L511.9 627.5 M512.5 594.0 L515.0 591.2 L520.0 592.5 L525.0 583.8 L532.5 581.9 M526.2 630.0 L520.0 637.5 L512.5 641.2 L513.1 648.8 L508.1 653.1 L503.8 657.5 L496.2 663.1 M508.1 653.1 L515.0 656.2 L525.0 662.5 L530.0 660.0 L537.5 662.5 L536.2 670.0 L538.8 676.2 M542.5 677.5 L550.0 676.9 L553.8 671.2 L555.0 665.0 L562.5 663.1 L566.2 658.8 L571.2 662.5 L580.0 656.2 L583.8 648.8 L586.2 645.6 L592.5 649.4 L602.5 646.2 L612.5 642.5 M571.2 708.8 L573.8 707.5 L581.2 710.6 L586.2 711.9 L591.2 710.0 L597.5 713.8 L602.5 715.6 L607.5 715.0 M620.0 733.8 L619.4 740.0 L620.6 745.0 L623.1 747.5 L620.0 751.2 L621.2 757.5 M725.6 765.0 L721.2 767.5 L715.6 769.4 M807.5 703.1 L802.5 710.0 L796.2 717.5 L791.2 727.5 L787.5 737.5 L783.8 742.5 L788.8 741.2 L795.0 743.8 L797.5 752.5 L801.2 758.8 L800.0 768.8 L803.8 773.8 L807.5 780.0 L815.0 778.8 L823.8 780.6 L831.2 778.1 L840.0 780.6 L846.2 787.5 L851.2 794.4 L857.5 795.0 L867.5 794.2 L883.8 792.5 L886.2 798.0 L881.2 808.0 L878.8 818.0 L880.0 829.2 M1014.0 760.6 L1012.1 762.5 L1004.6 766.2 L1001.8 772.8 L1008.4 778.4 L1004.6 782.2 L994.3 785.0 L993.4 791.6 L990.5 799.1 L997.1 806.6 L1003.7 811.3 L1011.2 810.3 L1012.1 816.0 L1004.6 817.8 L997.1 821.6 L987.7 825.3 L984.0 829.1 M1011.2 821.6 L1017.8 823.5 L1018.7 829.1 M1062.8 796.2 L1061.9 806.6 L1059.1 814.1 L1051.6 816.0 L1048.7 829.1 M1117.3 801.9 L1113.5 808.5 L1109.8 816.0 L1109.8 829.1 M1152.9 820.7 L1152.0 829.1 M1038.4 782.2 L1038.0 789.7 M813.8 560.0 L811.9 567.5 L813.1 573.8 L811.2 580.0 L808.8 583.1 L811.2 587.5 M1917.2 250.3 L1916.2 256.9 L1918.1 261.6 M2007.3 297.3 L2012.9 300.1 L2014.8 309.5 L2016.6 318.8 L2017.6 328.2 L2020.4 335.7 L2026.0 341.4 L2024.2 348.9 L2012.9 348.5 L2001.6 348.5 L1994.1 350.8 L1992.2 354.5 L1980.0 356.4 L1980.0 363.9 L1982.9 367.7 L1975.3 369.5 L1967.8 373.3 L1960.3 376.1 L1954.7 384.6 L1945.3 387.4 L1934.0 389.2 L1930.3 393.0 L1922.8 391.7 L1915.3 394.9 L1905.9 400.5 L1896.5 407.1 L1896.5 453.6 L1838.9 453.6 L1838.9 497.2 L1828.9 500.0 L1819.5 507.5 L1821.4 523.5 L1822.3 533.8 L1753.5 533.8 M1819.5 425.5 L1896.5 425.5 M1896.5 431.5 L1961.3 470.5 L2073.0 542.2 M1932.2 471.8 L1961.3 470.5 M1932.2 472.8 L1942.5 556.9 M1941.6 540.0 L1944.4 573.8 L1949.1 617.0 L1953.8 620.7 L1951.9 633.9 L1934.0 633.9 L1911.5 634.2 L1885.2 634.8 L1883.4 632.0 L1877.7 636.1 L1870.2 636.7 L1860.8 636.1 L1857.1 639.5 L1849.6 632.9 L1843.9 633.9 L1841.7 639.5 L1841.1 647.0 L1838.3 647.9 M1761.0 620.7 L1765.1 617.0 L1774.5 616.0 L1787.6 614.7 L1798.9 615.1 L1806.4 621.7 L1814.8 624.5 L1819.5 632.0 L1825.2 639.5 L1832.7 646.1 L1838.3 647.9 M1838.3 647.9 L1835.5 652.6 L1839.2 658.3 L1838.3 665.8 L1842.1 670.5 L1847.7 675.2 L1849.6 680.8 L1848.6 687.4 M1758.5 668.6 L1778.2 667.7 L1782.0 663.9 L1787.6 663.0 L1795.1 667.7 L1802.6 668.6 L1808.3 669.5 L1802.6 673.3 L1795.1 672.3 L1787.6 669.5 L1780.1 672.3 L1772.6 674.2 L1758.5 674.2 M1757.6 686.4 L1768.8 684.9 L1780.1 683.6 L1795.1 683.0 L1810.1 683.6 L1821.4 684.6 L1832.7 689.2 L1848.6 687.4 M1810.1 683.6 L1809.2 690.2 L1810.1 698.6 L1800.8 700.5 L1793.3 704.3 L1790.4 709.9 L1787.6 712.7 M1848.6 687.4 L1849.6 693.0 L1855.2 691.1 L1860.8 695.8 L1866.5 691.1 L1877.7 693.9 L1885.2 686.4 L1890.9 688.3 L1894.6 699.6 L1902.1 705.2 L1896.5 710.8 L1903.1 712.7 L1904.0 720.2 L1908.7 723.0 L1913.4 721.2 L1924.7 724.9 L1930.3 718.3 L1937.8 716.5 L1939.7 724.9 L1950.0 721.2 M1950.0 721.2 L1951.9 712.7 L1955.6 703.3 L1954.7 695.8 L1966.0 693.0 L1969.7 684.6 L1971.6 675.2 L1977.2 669.5 L1984.7 674.2 L1988.5 665.8 L1994.1 664.8 L1997.9 658.3 L2009.1 657.3 L2014.8 651.7 L2024.2 647.9 L2031.7 642.9 L2042.9 642.3 L2054.2 643.3 L2065.5 641.4 L2073.0 637.6 M2047.6 645.1 L2050.4 656.4 L2056.1 663.9 L2065.5 669.5 L2073.0 671.4 M2061.7 673.3 L2067.7 678.0 L2073.0 678.9 M1996.0 711.8 L2018.5 711.2 L2037.3 710.8 L2042.9 709.0 L2054.2 710.8 L2063.6 709.0 L2073.0 705.2 M1950.0 721.2 L1956.6 724.0 L1962.2 731.5 L1970.7 735.2 L1979.1 731.5 L1988.5 730.5 L1996.0 733.4 M1996.0 711.8 L1995.1 718.3 L1997.9 727.7 L1996.9 737.1 L1999.8 746.5 L2002.6 758.7 L1997.9 767.2 L1994.1 776.5 L1989.4 785.9 L1990.4 795.3 L1993.2 804.7 L1997.9 805.6 L1996.9 813.1 M2042.9 709.0 L2044.8 716.5 L2050.4 723.0 L2050.4 731.5 L2048.6 739.0 L2054.2 739.0 L2053.3 748.4 L2057.0 757.8 L2055.1 765.3 L2056.1 774.7 L2054.2 784.0 L2058.9 791.6 L2065.5 795.3 M2063.6 709.0 L2058.9 716.5 L2059.8 722.1 L2073.0 727.7 M1818.6 744.6 L1823.3 739.0 L1829.9 731.5 L1840.2 729.6 L1853.3 729.6 L1859.0 737.1 L1862.7 744.6 L1864.6 752.1 L1861.8 757.8 M1861.8 757.8 L1862.7 767.2 L1855.2 773.7 L1849.6 780.3 L1849.6 784.0 M1861.8 757.8 L1868.3 754.9 L1877.7 754.4 L1882.4 758.7 L1884.3 768.1 L1883.4 773.7 L1889.0 776.5 L1894.6 774.7 L1896.5 769.0 L1901.2 770.0 M1908.7 723.0 L1904.9 729.6 L1905.9 739.0 L1911.5 744.6 L1909.6 750.3 L1913.4 755.9 L1904.0 755.9 L1907.8 762.5 L1904.0 769.0 L1901.2 770.0 M1901.2 770.0 L1903.1 778.4 L1901.2 785.9 L1897.4 788.7 L1902.1 792.5 L1909.6 793.4 L1914.3 799.1 L1918.1 800.9 L1918.1 810.3 L1915.3 816.0 L1914.9 826.3"/>
<path stroke-width="3" d="M688.8 443.0 L695.0 441.2 L706.2 438.8 L712.5 438.8 L720.0 445.0 L721.2 450.0 L717.5 455.0 M726.2 462.0 L735.0 466.2 L737.5 471.2 L735.0 475.0 M746.2 480.0 L749.4 485.0 M738.1 494.0 L742.5 496.0 M751.2 495.0 L755.0 502.5 L759.4 506.5 M768.1 509.4 L776.2 510.6 L775.0 515.0 L768.8 519.8 M787.5 515.6 L795.0 517.1 M806.9 523.8 L814.0 526.5 M645.6 569.0 L651.5 568.1 M785.6 575.6 L794.4 578.8 M806.9 523.8 L814.0 526.5 M848.5 569.4 L856.2 570.6 M959.4 588.5 L963.5 586.9 M964.8 601.9 L969.4 604.8 M930.0 596.0 L935.6 595.6 M840.6 684.0 L844.4 687.2 M856.5 688.1 L860.0 691.9 L864.0 693.8 M869.4 689.8 L873.1 693.1 M983.5 694.4 L986.9 690.6 M999.8 709.0 L1005.0 706.2 M938.5 711.2 L942.5 712.5 L948.1 710.0 M550.6 551.9 L553.1 547.5 M557.0 620.0 L562.5 618.0"/>
</g>
<g stroke="#222" stroke-width="0.9" fill="none" stroke-linejoin="round">
<path stroke="#8e8e8e" stroke-width="1.5" d="M127.5 265.0 L419.2 265.0 M171.2 247.5 L171.2 361.8 M291.8 247.5 L291.8 265.0 M274.2 265.0 L274.2 350.8 L212.5 350.8 L212.5 354.5"/>
<path d="M274.2 273.2 L326.5 273.2 L326.5 306.2 L340.0 312.5 L355.0 315.0 L370.0 318.8 L390.0 321.2 L407.5 317.0 L421.2 322.5 L428.8 324.5 M419.5 247.5 L419.5 273.2 L422.5 290.0 L421.2 322.5 M419.5 273.2 L497.5 273.2 L500.0 277.5 L493.8 282.0 L502.5 282.0 M428.8 324.5 L429.2 333.8 L429.2 350.0 L433.8 357.5 L437.5 367.5 L435.0 380.0 L433.8 389.5 M429.2 333.8 L480.0 333.8 M506.2 247.5 L508.8 263.8 L511.2 270.0 L502.5 282.0 L496.2 293.8 L492.5 300.0 L486.2 310.0 L480.0 317.5 L478.0 327.5 L480.0 333.8 L478.8 342.5 L481.2 346.2 L475.0 355.0 L470.5 367.5 L502.5 368.8 L503.8 376.2 L507.5 380.0 M508.8 263.8 L515.0 265.0 L530.0 256.2 L531.2 247.5 M503.8 272.5 L532.5 271.2 L607.5 272.0 L675.0 272.5 L736.2 272.5 M492.5 299.5 L615.0 299.5 M530.8 300.0 L525.0 335.0 L524.2 352.5 L525.5 377.0 M574.2 300.0 L580.0 322.5 L586.2 345.0 L582.5 355.0 L583.8 367.5 L585.0 372.0 M540.0 377.0 L540.0 368.8 L583.8 368.0 M585.0 372.0 L632.5 375.8 L633.8 378.8 L636.2 372.5 L645.0 371.2 M613.8 302.0 L620.0 312.5 L630.0 322.5 L637.5 330.0 L643.8 337.5 L650.0 345.0 L652.5 350.0 M613.8 302.0 L625.0 296.2 L640.0 296.2 L655.0 298.0 L657.5 302.0 L675.0 302.5 L693.8 317.0 M596.2 297.0 L607.5 287.5 L625.0 282.5 L637.5 275.0 L642.5 272.5 M607.5 271.2 L620.0 263.8 L632.5 258.8 L631.2 252.5 M631.2 252.5 L635.0 253.8 L647.5 260.0 L665.0 256.2 L666.2 247.5"/>
</g>
<g fill="#000">
<circle cx="932.5" cy="345.5" r="2.2"/>
<circle cx="765.0" cy="487.5" r="2.2"/>
<circle cx="822.5" cy="531.9" r="1.4"/>
<circle cx="822.5" cy="531.9" r="1.5"/>
<circle cx="928.8" cy="585.2" r="1.9"/>
<circle cx="934.4" cy="584.0" r="1.9"/>
<circle cx="938.5" cy="583.1" r="1.9"/>
<circle cx="920.0" cy="589.4" r="1.9"/>
<circle cx="983.1" cy="597.8" r="2.2"/>
<circle cx="976.5" cy="613.1" r="2.2"/>
<circle cx="992.2" cy="627.1" r="2.2"/>
<circle cx="922.9" cy="712.9" r="2.2"/>
<circle cx="983.5" cy="607.5" r="2.7"/>
<circle cx="993.5" cy="672.8" r="2.7"/>
<circle cx="1021.9" cy="674.4" r="2.7"/>
<circle cx="1764.2" cy="702.4" r="2.0"/>
<circle cx="1770.7" cy="703.3" r="2.0"/>
<circle cx="1775.4" cy="707.1" r="2.0"/>
<circle cx="1767.9" cy="709.9" r="2.0"/>
<circle cx="214.5" cy="530.0" r="2.4"/>
<circle cx="137.5" cy="578.0" r="2.4"/>
<circle cx="535.0" cy="601.2" r="2.0"/>
<circle cx="641.2" cy="685.0" r="2.0"/>
<circle cx="688.8" cy="757.2" r="2.0"/>
<circle cx="640.0" cy="772.5" r="2.0"/>
<circle cx="1613.2" cy="609.1" r="4.2"/>
<circle cx="1617.5" cy="612.5" r="3.0"/>
<circle cx="1628.6" cy="615.5" r="2.8"/>
<circle cx="1651.0" cy="613.6" r="2.6"/>
<circle cx="1653.3" cy="624.2" r="3.2"/>
<circle cx="1646.9" cy="638.9" r="2.2"/>
<circle cx="1639.5" cy="641.5" r="3.3"/>
<circle cx="1626.0" cy="644.0" r="3.0"/>
<circle cx="1613.6" cy="265.3" r="2.2"/>
<circle cx="1608.0" cy="251.5" r="2.6"/>
<circle cx="1753.4" cy="338.0" r="2.4"/>
<circle cx="1751.0" cy="337.4" r="2.2"/>
<circle cx="1756.0" cy="338.6" r="2.2"/>
</g>
</g>
<rect x="130" y="250" width="1940" height="580" fill="none" stroke="#000" stroke-width="5"/>
<g stroke="#dfdfdf" stroke-width="2.8" stroke-dasharray="8.33 8.33" fill="none">
<path d="M128.75 815.1H2072"/>
<path d="M128.75 729.2H2072"/>
<path d="M128.75 643.2H2072"/>
<path d="M128.75 557.2H2072"/>
<path d="M128.75 471.3H2072"/>
<path d="M128.75 385.3H2072"/>
<path d="M128.75 299.4H2072"/>
<path d="M326.3 831.6V250"/>
<path d="M670.1 831.6V250"/>
<path d="M1013.9 831.6V250"/>
<path d="M1357.7 831.6V250"/>
<path d="M1701.5 831.6V250"/>
<path d="M2045.3 831.6V250"/>
</g>
<g stroke="#d0d0d0" stroke-opacity=".8" stroke-width="2" fill="none">
<path d="M124.6 815.1H132.5M2067.5 815.1H2075.4"/>
<path d="M124.6 729.2H132.5M2067.5 729.2H2075.4"/>
<path d="M124.6 643.2H132.5M2067.5 643.2H2075.4"/>
<path d="M124.6 557.2H132.5M2067.5 557.2H2075.4"/>
<path d="M124.6 471.3H132.5M2067.5 471.3H2075.4"/>
<path d="M124.6 385.3H132.5M2067.5 385.3H2075.4"/>
<path d="M124.6 299.4H132.5M2067.5 299.4H2075.4"/>
<path d="M326.3 827.5V835.5"/>
<path d="M670.1 827.5V835.5"/>
<path d="M1013.9 827.5V835.5"/>
<path d="M1357.7 827.5V835.5"/>
<path d="M1701.5 827.5V835.5"/>
<path d="M2045.3 827.5V835.5"/>
</g>
<g font-size="19.2" fill="#707070" font-family="Liberation Sans, sans-serif">
<text x="119.6" y="822.1" text-anchor="end">5°N</text>
<text x="2080" y="822.1">5°N</text>
<text x="119.6" y="736.2" text-anchor="end">10°N</text>
<text x="2080" y="736.2">10°N</text>
<text x="119.6" y="650.2" text-anchor="end">15°N</text>
<text x="2080" y="650.2">15°N</text>
<text x="119.6" y="564.2" text-anchor="end">20°N</text>
<text x="2080" y="564.2">20°N</text>
<text x="119.6" y="478.3" text-anchor="end">25°N</text>
<text x="2080" y="478.3">25°N</text>
<text x="119.6" y="392.3" text-anchor="end">30°N</text>
<text x="2080" y="392.3">30°N</text>
<text x="119.6" y="306.4" text-anchor="end">35°N</text>
<text x="2080" y="306.4">35°N</text>
<text x="326.3" y="854.2" text-anchor="middle">100°W</text>
<text x="670.1" y="854.2" text-anchor="middle">80°W</text>
<text x="1013.9" y="854.2" text-anchor="middle">60°W</text>
<text x="1357.7" y="854.2" text-anchor="middle">40°W</text>
<text x="1701.5" y="854.2" text-anchor="middle">20°W</text>
<text x="2045.3" y="854.2" text-anchor="middle">0°</text>
</g>
<g stroke="#8c8c8c" stroke-width="1.4">
<path d="M498.2 829.5V836"/>
<path d="M1529.6 829.5V836"/>
</g>
</g>
<g transform="translate(0 700)">
<rect x="130" y="250" width="1940" height="580" fill="#73dfff"/>
<g clip-path="url(#clip)">
<g fill="#fff">
<path d="M128.0 248.0 L747.5 248.0 L735.0 247.5 L737.5 258.8 L740.0 267.5 L742.5 276.2 L746.9 285.0 L749.0 291.9 L746.9 296.2 L743.8 293.8 L740.0 286.2 L737.5 281.2 L732.5 282.5 L726.2 278.8 L727.5 283.8 L735.0 286.2 L738.8 291.2 L732.5 293.8 L726.2 291.2 L722.5 292.5 L728.8 297.5 L735.0 300.6 L727.5 303.8 L720.0 305.0 L715.0 306.2 L708.8 311.2 L705.0 317.5 L695.0 318.8 L687.5 325.0 L683.8 331.2 L672.5 337.5 L661.2 343.8 L655.0 348.8 L648.8 357.5 L645.6 365.0 L644.4 371.2 L646.2 383.8 L650.0 395.0 L656.2 406.2 L661.2 416.2 L666.2 430.0 L670.0 440.0 L669.4 451.2 L668.1 456.0 L668.8 455.0 L665.0 465.0 L660.0 468.8 L651.2 467.0 L647.5 460.0 L641.2 453.8 L637.5 443.8 L631.2 437.5 L626.2 428.8 L622.5 421.2 L625.0 412.5 L623.8 402.5 L617.5 396.2 L611.2 390.0 L603.8 385.0 L595.0 385.5 L586.2 389.5 L578.8 390.5 L575.0 384.5 L567.5 379.0 L557.5 377.0 L545.0 378.0 L535.0 377.0 L525.0 378.0 L513.8 379.0 L508.1 385.0 L505.0 391.9 L515.0 398.8 L514.4 401.9 L509.4 402.8 L500.0 395.6 L496.9 393.8 L497.8 397.5 L495.0 401.0 L493.1 397.5 L490.0 396.9 L486.2 400.6 L482.5 399.4 L477.5 397.5 L473.8 393.8 L470.6 390.0 L466.2 388.1 L461.9 389.4 L457.5 392.5 L450.0 391.2 L443.8 389.0 L435.0 389.0 L427.5 390.6 L420.0 393.8 L413.8 398.1 L406.2 403.1 L400.0 406.9 L392.5 410.6 L387.5 413.8 L382.5 417.5 L377.5 421.2 L373.8 427.5 L371.2 432.5 L372.5 438.8 L374.4 445.0 L375.6 452.5 L373.8 457.5 L375.6 460.0 L372.5 465.0 L369.4 470.0 L367.5 477.5 L366.2 486.2 L365.6 495.0 L365.0 502.5 L364.4 508.8 L362.5 512.5 L363.8 517.5 L365.0 522.5 L366.9 527.5 L371.2 531.9 L370.6 536.2 L373.8 543.8 L377.5 548.8 L382.5 553.8 L387.5 558.8 L388.8 563.8 L391.2 568.8 L395.0 573.8 L398.8 578.8 L407.5 579.4 L413.8 582.5 L417.5 586.2 L421.2 588.8 L427.5 588.1 L435.0 585.0 L443.8 584.4 L450.0 581.9 L457.5 580.0 L463.8 579.4 L466.2 583.8 L472.5 583.8 L477.5 580.0 L474.4 576.9 L478.8 573.8 L483.8 570.6 L486.2 566.2 L487.5 560.0 L490.0 556.2 L490.0 547.5 L491.9 541.2 L495.0 537.5 L502.5 534.4 L512.5 533.1 L521.2 530.6 L532.5 529.4 L542.5 530.0 L550.0 529.4 L553.1 533.8 L552.5 540.0 L550.0 545.0 L545.0 550.0 L541.9 555.0 L540.0 561.2 L538.8 567.5 L540.0 572.5 L538.1 580.0 L535.0 591.2 L530.0 595.0 L528.1 607.5 L528.8 613.8 L522.5 620.0 L516.2 626.2 L511.9 627.5 L520.0 628.1 L526.2 630.0 L533.8 627.5 L542.5 628.5 L552.5 630.6 L560.0 630.0 L568.8 625.0 L576.2 627.5 L583.8 625.6 L591.2 628.1 L597.5 628.8 L602.5 633.8 L607.5 638.1 L613.8 640.0 L612.5 642.5 L615.0 648.8 L615.6 655.0 L611.9 660.0 L610.0 667.5 L609.4 676.2 L608.1 682.5 L607.5 690.0 L605.6 696.2 L606.9 701.2 L603.8 706.2 L605.0 711.2 L608.1 716.2 L611.2 722.5 L616.2 727.5 L620.0 732.5 L625.0 736.2 L630.0 738.8 L631.9 744.4 L635.0 746.2 L638.8 744.4 L641.2 747.5 L646.2 750.0 L652.5 749.4 L660.0 745.6 L668.8 742.5 L673.8 738.1 L677.5 735.6 L685.0 737.5 L693.8 738.8 L701.2 742.5 L707.5 747.5 L713.8 752.5 L718.8 757.5 L723.8 761.2 L725.6 765.0 L726.2 760.0 L722.5 753.8 L727.5 751.2 L735.0 746.2 L740.0 738.8 L746.2 736.9 L745.6 727.5 L747.5 720.0 L752.5 715.0 L758.8 711.2 L765.0 715.0 L768.8 710.0 L773.8 706.2 L785.0 705.0 L795.0 700.0 L802.5 693.8 L810.0 688.8 L816.2 686.9 L822.5 690.0 L822.5 693.8 L817.5 698.1 L810.0 700.0 L807.5 702.5 L808.8 706.2 L812.5 713.8 L815.0 720.0 L816.9 715.0 L823.8 711.9 L833.8 708.1 L841.2 705.0 L847.5 703.8 L855.0 702.5 L863.0 703.8 L867.6 708.0 L871.3 714.6 L874.2 720.2 L882.6 720.2 L893.9 718.3 L905.1 717.4 L910.8 722.1 L916.4 724.9 L925.8 727.2 L933.3 724.9 L939.9 720.2 L950.2 718.3 L961.4 716.5 L972.7 716.5 L981.2 716.8 L969.0 718.7 L963.3 721.2 L967.1 724.9 L972.7 730.5 L980.2 731.5 L987.7 732.4 L995.2 736.2 L999.9 739.0 L999.0 743.7 L996.2 748.4 L997.1 752.1 L1006.5 753.1 L1014.0 754.9 L1021.5 759.6 L1029.0 765.3 L1036.5 771.8 L1040.3 777.5 L1041.2 783.1 L1047.8 785.0 L1055.3 790.6 L1062.8 796.2 L1072.2 799.1 L1081.6 800.0 L1091.0 798.1 L1100.4 798.1 L1109.8 799.1 L1119.1 801.9 L1128.5 804.7 L1137.9 809.4 L1147.3 816.0 L1152.9 820.7 L1156.7 825.3 L1164.2 830.0 L1164.0 834.0 L715.0 834.0 L715.0 827.5 L716.2 820.0 L715.6 812.5 L713.1 806.2 L717.5 802.5 L714.4 797.5 L716.2 792.5 L715.0 785.0 L712.5 778.8 L707.5 773.8 L708.8 768.8 L713.8 770.0 L717.5 766.2 L715.0 761.2 L706.2 757.5 L700.0 753.8 L692.5 748.8 L686.2 744.4 L681.2 746.2 L675.0 750.0 L671.2 756.2 L663.8 758.8 L662.5 761.2 L666.2 766.2 L670.0 771.9 L663.8 775.6 L656.2 776.9 L653.8 771.2 L651.2 766.2 L645.0 768.8 L641.2 762.5 L635.0 759.4 L627.5 757.5 L620.0 758.8 L612.5 756.2 L607.5 752.5 L608.8 747.5 L603.8 742.5 L597.5 738.1 L590.0 735.0 L588.8 730.0 L585.0 728.8 L586.2 732.5 L581.9 736.2 L578.8 733.8 L573.8 731.2 L570.0 727.5 L570.0 722.5 L572.5 718.8 L570.0 713.8 L571.2 708.8 L565.0 703.8 L557.5 697.5 L553.8 690.6 L546.2 685.0 L540.0 680.0 L538.8 677.5 L535.0 673.8 L527.5 674.4 L520.0 673.1 L510.0 669.4 L502.5 668.1 L496.2 663.8 L490.0 661.9 L477.5 661.2 L467.5 656.2 L460.0 650.0 L452.5 641.2 L440.0 631.9 L427.5 624.2 L413.8 619.2 L405.0 625.0 L395.0 629.5 L385.0 631.2 L372.5 627.0 L360.0 622.5 L347.5 616.2 L332.5 613.8 L317.5 607.5 L307.5 601.0 L302.5 598.1 L296.2 593.8 L291.2 590.0 L282.5 589.4 L275.0 587.5 L267.5 584.4 L262.5 578.8 L257.5 575.0 L251.2 571.2 L245.0 568.8 L240.0 563.8 L235.0 557.5 L231.2 553.8 L229.4 549.4 L236.9 545.6 L232.5 541.9 L237.5 537.5 L237.5 531.2 L232.5 526.2 L228.8 521.2 L230.0 516.2 L227.5 511.9 L222.5 507.5 L217.5 502.5 L211.2 496.2 L207.5 490.0 L202.5 486.2 L196.2 481.2 L190.0 477.5 L189.4 472.5 L186.2 469.4 L177.5 465.0 L172.5 462.5 L166.2 459.4 L163.8 455.0 L166.2 451.2 L170.6 448.8 L167.5 445.0 L162.5 440.6 L157.5 439.4 L155.0 434.4 L147.5 431.2 L144.4 426.2 L145.0 421.2 L138.8 420.6 L131.9 419.4 L126.2 419.0Z"/>
<path d="M126.2 448.8 L131.9 450.0 L136.9 454.4 L133.8 458.1 L137.5 463.8 L141.2 470.0 L145.0 471.2 L142.5 476.2 L143.8 482.5 L148.8 486.2 L151.2 482.5 L147.5 479.4 L150.0 478.1 L154.4 483.8 L158.1 482.5 L158.8 488.8 L161.2 493.8 L165.6 498.8 L164.4 503.1 L160.6 505.6 L155.6 508.1 L153.1 505.6 L151.9 500.0 L148.8 496.2 L143.8 493.1 L137.5 488.1 L131.9 485.6 L126.2 485.0Z"/>
<path d="M2073.0 272.9 L2067.7 273.4 L2059.8 275.7 L2052.3 278.5 L2046.7 282.2 L2042.9 285.4 L2039.2 284.1 L2031.7 286.9 L2026.0 289.2 L2020.4 293.5 L2012.9 296.3 L2005.4 296.3 L1997.9 295.9 L1994.1 293.5 L1986.6 295.4 L1979.1 294.8 L1967.8 295.9 L1960.3 293.5 L1954.7 289.2 L1951.9 284.1 L1943.4 286.0 L1941.6 290.7 L1937.8 300.1 L1932.2 309.5 L1927.5 316.0 L1919.0 319.8 L1909.6 323.5 L1898.4 328.2 L1892.7 333.9 L1886.2 341.4 L1885.6 347.9 L1881.5 352.6 L1877.7 358.3 L1875.9 365.8 L1876.2 373.3 L1879.6 378.9 L1878.7 384.6 L1874.9 390.2 L1870.2 395.8 L1864.6 401.4 L1857.1 405.2 L1851.4 409.9 L1845.8 414.6 L1838.3 417.4 L1828.9 419.3 L1822.3 420.6 L1819.5 425.9 L1816.7 431.5 L1813.9 439.0 L1810.1 442.7 L1802.6 446.5 L1797.0 450.3 L1795.1 455.9 L1792.3 461.5 L1790.4 465.3 L1789.5 471.8 L1787.6 477.5 L1782.0 481.2 L1776.4 486.9 L1771.7 491.6 L1768.8 499.1 L1766.0 506.6 L1762.3 516.0 L1757.6 518.8 L1754.8 523.5 L1753.5 531.0 L1751.0 542.2 L1753.8 541.9 L1759.5 545.6 L1765.1 550.3 L1767.0 555.0 L1764.2 560.7 L1762.3 568.2 L1766.0 573.8 L1768.8 581.3 L1770.3 590.7 L1769.8 598.2 L1767.0 605.7 L1763.2 613.2 L1761.0 620.7 L1760.4 628.2 L1757.6 633.9 L1752.9 640.4 L1748.2 645.1 L1744.4 647.4 L1750.1 649.8 L1753.8 655.5 L1756.6 662.0 L1758.5 667.7 L1755.7 671.4 L1756.6 678.9 L1756.6 686.4 L1760.4 690.2 L1765.1 693.9 L1770.7 697.7 L1776.4 701.4 L1780.1 707.1 L1784.8 711.8 L1789.5 715.5 L1794.2 720.2 L1798.9 724.9 L1805.5 729.6 L1811.1 734.3 L1814.8 739.9 L1818.6 744.6 L1817.7 752.1 L1819.5 758.7 L1823.3 764.3 L1824.2 770.0 L1830.8 772.8 L1840.2 777.5 L1847.7 782.2 L1853.3 786.9 L1860.8 792.5 L1868.3 796.2 L1875.9 802.8 L1883.4 809.4 L1890.9 814.1 L1900.3 818.8 L1907.8 822.5 L1914.3 826.3 L1922.8 821.6 L1934.0 816.9 L1945.3 813.1 L1956.6 811.3 L1967.8 810.3 L1979.1 810.0 L1988.5 812.2 L1997.9 814.5 L2005.4 816.9 L2010.1 819.3 L2016.6 816.0 L2026.0 812.2 L2035.4 808.5 L2044.8 804.7 L2052.3 801.9 L2059.8 800.0 L2067.7 796.2 L2073.0 795.3Z"/>
<path d="M1894.6 249.4 L1892.7 258.8 L1890.9 264.0 L1898.4 262.9 L1905.9 264.0 L1910.6 264.4 L1917.2 262.2 L1924.7 261.6 L1932.2 263.5 L1935.9 268.2 L1937.8 273.8 L1943.4 278.5 L1950.0 283.2 L1954.7 275.7 L1962.2 273.8 L1969.7 270.0 L1979.1 269.1 L1988.5 270.0 L1997.9 270.0 L2003.5 268.2 L2008.2 269.1 L2012.9 263.5 L2016.6 257.8 L2024.2 254.6 L2032.6 254.1 L2033.5 249.4Z"/>
<path d="M585.0 525.0 L592.5 521.2 L594.4 516.9 L600.0 511.9 L608.8 507.5 L617.5 505.0 L626.2 503.8 L631.2 501.9 L640.0 502.5 L647.5 503.5 L657.5 503.8 L665.0 506.2 L670.0 506.9 L675.0 509.4 L680.0 513.8 L685.0 515.6 L692.5 515.0 L697.5 513.1 L703.8 516.2 L710.0 521.9 L716.2 527.5 L722.5 531.9 L730.0 535.0 L737.5 537.5 L745.0 538.8 L746.2 541.9 L743.8 544.4 L750.0 545.0 L757.5 545.6 L763.8 549.4 L770.0 551.9 L771.2 554.4 L766.2 555.0 L760.0 555.6 L755.0 558.8 L747.5 559.4 L737.5 558.1 L727.5 558.1 L717.5 559.4 L710.0 560.0 L709.4 557.5 L713.8 553.1 L718.8 551.2 L719.4 547.5 L715.0 545.0 L707.5 544.4 L702.5 543.8 L697.5 540.0 L695.0 535.0 L693.8 530.0 L690.0 528.1 L683.8 530.0 L677.5 527.5 L671.2 526.2 L667.5 523.8 L662.5 520.6 L655.0 520.6 L647.5 521.2 L640.0 520.0 L635.0 518.1 L632.5 515.6 L638.8 514.4 L641.9 513.1 L640.0 510.6 L632.5 510.6 L622.5 510.6 L617.5 513.1 L612.5 516.9 L606.2 518.8 L601.2 523.1 L593.8 526.9 L591.2 524.4Z"/>
<path d="M617.5 524.4 L622.5 523.5 L626.2 526.9 L626.0 530.6 L621.2 532.5 L616.2 531.5 L615.6 529.4 L618.1 528.1Z"/>
<path d="M697.5 586.9 L702.5 583.1 L710.0 582.2 L717.5 583.1 L725.0 585.0 L731.2 588.1 L735.0 591.2 L735.0 593.8 L728.8 594.4 L722.5 593.1 L718.8 596.9 L715.0 594.4 L708.8 593.8 L705.0 589.4 L700.0 588.1Z"/>
<path d="M782.5 560.6 L787.5 559.4 L795.0 560.0 L802.5 561.2 L810.0 561.9 L813.8 560.0 L821.2 558.8 L825.0 557.5 L830.0 559.8 L837.5 561.9 L843.8 563.1 L845.0 567.5 L848.1 570.0 L856.2 573.1 L862.5 574.4 L867.5 577.5 L871.2 581.2 L870.6 585.0 L867.5 587.5 L865.6 590.0 L862.5 588.1 L863.1 585.0 L857.5 584.4 L850.0 583.8 L843.8 584.4 L838.8 587.5 L833.8 588.1 L831.2 584.4 L826.2 585.6 L822.5 590.0 L820.0 595.0 L818.1 598.1 L815.0 595.0 L811.9 590.0 L808.8 586.9 L800.0 587.5 L792.5 588.8 L785.0 587.5 L780.0 588.1 L775.0 590.6 L771.2 587.5 L766.2 586.2 L765.0 583.1 L767.5 580.0 L777.5 580.6 L786.2 581.9 L795.0 583.1 L801.2 581.9 L801.9 579.4 L797.5 576.2 L795.6 572.5 L795.0 567.5 L790.0 565.0 L783.1 563.1Z"/>
<path d="M888.8 585.0 L891.2 582.5 L900.0 582.2 L910.0 583.1 L916.2 583.8 L918.1 586.2 L916.2 589.4 L912.5 591.9 L905.0 592.5 L897.5 591.9 L891.2 593.1 L889.4 590.0 L890.0 587.5Z"/>
<path d="M985.9 716.5 L997.1 714.6 L998.1 719.3 L996.2 726.8 L987.7 727.4 L988.7 721.2Z"/>
<path d="M778.8 538.8 L781.2 536.2 L786.2 535.6 L790.0 533.8 L791.0 536.9 L788.8 540.0 L783.8 541.5 L779.4 541.0Z"/>
<path d="M1736.0 405.2 L1739.7 405.2 L1741.1 409.0 L1739.2 411.2 L1736.9 409.9Z"/>
<path d="M1733.2 423.6 L1737.9 422.1 L1736.9 425.9 L1734.7 425.9Z"/>
<path d="M1747.3 416.5 L1750.1 415.5 L1751.6 418.0 L1749.1 419.8Z"/>
<path d="M1754.8 413.6 L1762.3 411.2 L1767.0 409.9 L1765.1 413.6 L1760.4 419.8 L1756.6 417.4Z"/>
<path d="M1773.5 418.3 L1778.2 416.5 L1781.6 419.3 L1780.1 423.6 L1775.4 424.0 L1772.6 421.2Z"/>
<path d="M1797.9 418.3 L1802.6 414.6 L1805.5 408.0 L1808.3 407.1 L1807.3 414.6 L1803.6 417.4Z"/>
<path d="M1807.3 401.4 L1813.0 398.6 L1814.3 401.4 L1810.1 404.3Z"/>
<path d="M706.9 485.0 L710.0 483.1 L713.1 485.6 L713.5 490.6 L710.6 493.1 L707.5 491.2Z"/>
<path d="M983.1 620.0 L986.2 618.8 L988.1 616.2 L991.2 618.8 L992.5 621.9 L990.0 623.1 L988.1 626.2 L985.0 626.9 L983.1 623.8Z"/>
<path d="M988.8 633.1 L991.9 632.5 L993.5 635.6 L992.5 639.4 L990.0 639.4 L988.5 636.2Z"/>
<path d="M993.1 645.0 L996.2 646.2 L1000.0 650.6 L999.4 653.1 L996.9 652.5 L994.0 648.8Z"/>
<path d="M995.6 659.4 L998.1 658.5 L999.4 661.9 L998.1 665.2 L996.0 665.0 L995.2 661.9Z"/>
<path d="M836.9 696.2 L840.0 692.2 L845.0 693.1 L846.9 697.5 L845.6 701.9 L843.5 704.4 L840.0 703.8 L837.5 701.2Z"/>
<path d="M701.2 468.8 L705.0 468.8 L708.8 477.5 L706.2 482.5 L701.2 481.2 L698.0 476.2Z"/>
<path d="M815.0 720.0 L810.0 726.2 L805.6 732.5 L810.0 738.8 L812.5 745.0 L818.8 745.6 L823.8 740.0 L823.8 732.5 L820.0 726.2 L816.9 721.2Z" fill="#73dfff"/>
</g>
<text x="1153.7" y="360" font-size="61.1" font-weight="bold" fill="#ff0000" text-anchor="middle">No tropical cyclone development is expected</text>
<g stroke="#000" stroke-width="2.35" stroke-linejoin="round" stroke-linecap="round" fill="none">
<path d="M128.0 248.0 L747.5 248.0 L735.0 247.5 L737.5 258.8 L740.0 267.5 L742.5 276.2 L746.9 285.0 L749.0 291.9 L746.9 296.2 L743.8 293.8 L740.0 286.2 L737.5 281.2 L732.5 282.5 L726.2 278.8 L727.5 283.8 L735.0 286.2 L738.8 291.2 L732.5 293.8 L726.2 291.2 L722.5 292.5 L728.8 297.5 L735.0 300.6 L727.5 303.8 L720.0 305.0 L715.0 306.2 L708.8 311.2 L705.0 317.5 L695.0 318.8 L687.5 325.0 L683.8 331.2 L672.5 337.5 L661.2 343.8 L655.0 348.8 L648.8 357.5 L645.6 365.0 L644.4 371.2 L646.2 383.8 L650.0 395.0 L656.2 406.2 L661.2 416.2 L666.2 430.0 L670.0 440.0 L669.4 451.2 L668.1 456.0 L668.8 455.0 L665.0 465.0 L660.0 468.8 L651.2 467.0 L647.5 460.0 L641.2 453.8 L637.5 443.8 L631.2 437.5 L626.2 428.8 L622.5 421.2 L625.0 412.5 L623.8 402.5 L617.5 396.2 L611.2 390.0 L603.8 385.0 L595.0 385.5 L586.2 389.5 L578.8 390.5 L575.0 384.5 L567.5 379.0 L557.5 377.0 L545.0 378.0 L535.0 377.0 L525.0 378.0 L513.8 379.0 L508.1 385.0 L505.0 391.9 L515.0 398.8 L514.4 401.9 L509.4 402.8 L500.0 395.6 L496.9 393.8 L497.8 397.5 L495.0 401.0 L493.1 397.5 L490.0 396.9 L486.2 400.6 L482.5 399.4 L477.5 397.5 L473.8 393.8 L470.6 390.0 L466.2 388.1 L461.9 389.4 L457.5 392.5 L450.0 391.2 L443.8 389.0 L435.0 389.0 L427.5 390.6 L420.0 393.8 L413.8 398.1 L406.2 403.1 L400.0 406.9 L392.5 410.6 L387.5 413.8 L382.5 417.5 L377.5 421.2 L373.8 427.5 L371.2 432.5 L372.5 438.8 L374.4 445.0 L375.6 452.5 L373.8 457.5 L375.6 460.0 L372.5 465.0 L369.4 470.0 L367.5 477.5 L366.2 486.2 L365.6 495.0 L365.0 502.5 L364.4 508.8 L362.5 512.5 L363.8 517.5 L365.0 522.5 L366.9 527.5 L371.2 531.9 L370.6 536.2 L373.8 543.8 L377.5 548.8 L382.5 553.8 L387.5 558.8 L388.8 563.8 L391.2 568.8 L395.0 573.8 L398.8 578.8 L407.5 579.4 L413.8 582.5 L417.5 586.2 L421.2 588.8 L427.5 588.1 L435.0 585.0 L443.8 584.4 L450.0 581.9 L457.5 580.0 L463.8 579.4 L466.2 583.8 L472.5 583.8 L477.5 580.0 L474.4 576.9 L478.8 573.8 L483.8 570.6 L486.2 566.2 L487.5 560.0 L490.0 556.2 L490.0 547.5 L491.9 541.2 L495.0 537.5 L502.5 534.4 L512.5 533.1 L521.2 530.6 L532.5 529.4 L542.5 530.0 L550.0 529.4 L553.1 533.8 L552.5 540.0 L550.0 545.0 L545.0 550.0 L541.9 555.0 L540.0 561.2 L538.8 567.5 L540.0 572.5 L538.1 580.0 L535.0 591.2 L530.0 595.0 L528.1 607.5 L528.8 613.8 L522.5 620.0 L516.2 626.2 L511.9 627.5 L520.0 628.1 L526.2 630.0 L533.8 627.5 L542.5 628.5 L552.5 630.6 L560.0 630.0 L568.8 625.0 L576.2 627.5 L583.8 625.6 L591.2 628.1 L597.5 628.8 L602.5 633.8 L607.5 638.1 L613.8 640.0 L612.5 642.5 L615.0 648.8 L615.6 655.0 L611.9 660.0 L610.0 667.5 L609.4 676.2 L608.1 682.5 L607.5 690.0 L605.6 696.2 L606.9 701.2 L603.8 706.2 L605.0 711.2 L608.1 716.2 L611.2 722.5 L616.2 727.5 L620.0 732.5 L625.0 736.2 L630.0 738.8 L631.9 744.4 L635.0 746.2 L638.8 744.4 L641.2 747.5 L646.2 750.0 L652.5 749.4 L660.0 745.6 L668.8 742.5 L673.8 738.1 L677.5 735.6 L685.0 737.5 L693.8 738.8 L701.2 742.5 L707.5 747.5 L713.8 752.5 L718.8 757.5 L723.8 761.2 L725.6 765.0 L726.2 760.0 L722.5 753.8 L727.5 751.2 L735.0 746.2 L740.0 738.8 L746.2 736.9 L745.6 727.5 L747.5 720.0 L752.5 715.0 L758.8 711.2 L765.0 715.0 L768.8 710.0 L773.8 706.2 L785.0 705.0 L795.0 700.0 L802.5 693.8 L810.0 688.8 L816.2 686.9 L822.5 690.0 L822.5 693.8 L817.5 698.1 L810.0 700.0 L807.5 702.5 L808.8 706.2 L812.5 713.8 L815.0 720.0 L816.9 715.0 L823.8 711.9 L833.8 708.1 L841.2 705.0 L847.5 703.8 L855.0 702.5 L863.0 703.8 L867.6 708.0 L871.3 714.6 L874.2 720.2 L882.6 720.2 L893.9 718.3 L905.1 717.4 L910.8 722.1 L916.4 724.9 L925.8 727.2 L933.3 724.9 L939.9 720.2 L950.2 718.3 L961.4 716.5 L972.7 716.5 L981.2 716.8 L969.0 718.7 L963.3 721.2 L967.1 724.9 L972.7 730.5 L980.2 731.5 L987.7 732.4 L995.2 736.2 L999.9 739.0 L999.0 743.7 L996.2 748.4 L997.1 752.1 L1006.5 753.1 L1014.0 754.9 L1021.5 759.6 L1029.0 765.3 L1036.5 771.8 L1040.3 777.5 L1041.2 783.1 L1047.8 785.0 L1055.3 790.6 L1062.8 796.2 L1072.2 799.1 L1081.6 800.0 L1091.0 798.1 L1100.4 798.1 L1109.8 799.1 L1119.1 801.9 L1128.5 804.7 L1137.9 809.4 L1147.3 816.0 L1152.9 820.7 L1156.7 825.3 L1164.2 830.0 L1164.0 834.0 L715.0 834.0 L715.0 827.5 L716.2 820.0 L715.6 812.5 L713.1 806.2 L717.5 802.5 L714.4 797.5 L716.2 792.5 L715.0 785.0 L712.5 778.8 L707.5 773.8 L708.8 768.8 L713.8 770.0 L717.5 766.2 L715.0 761.2 L706.2 757.5 L700.0 753.8 L692.5 748.8 L686.2 744.4 L681.2 746.2 L675.0 750.0 L671.2 756.2 L663.8 758.8 L662.5 761.2 L666.2 766.2 L670.0 771.9 L663.8 775.6 L656.2 776.9 L653.8 771.2 L651.2 766.2 L645.0 768.8 L641.2 762.5 L635.0 759.4 L627.5 757.5 L620.0 758.8 L612.5 756.2 L607.5 752.5 L608.8 747.5 L603.8 742.5 L597.5 738.1 L590.0 735.0 L588.8 730.0 L585.0 728.8 L586.2 732.5 L581.9 736.2 L578.8 733.8 L573.8 731.2 L570.0 727.5 L570.0 722.5 L572.5 718.8 L570.0 713.8 L571.2 708.8 L565.0 703.8 L557.5 697.5 L553.8 690.6 L546.2 685.0 L540.0 680.0 L538.8 677.5 L535.0 673.8 L527.5 674.4 L520.0 673.1 L510.0 669.4 L502.5 668.1 L496.2 663.8 L490.0 661.9 L477.5 661.2 L467.5 656.2 L460.0 650.0 L452.5 641.2 L440.0 631.9 L427.5 624.2 L413.8 619.2 L405.0 625.0 L395.0 629.5 L385.0 631.2 L372.5 627.0 L360.0 622.5 L347.5 616.2 L332.5 613.8 L317.5 607.5 L307.5 601.0 L302.5 598.1 L296.2 593.8 L291.2 590.0 L282.5 589.4 L275.0 587.5 L267.5 584.4 L262.5 578.8 L257.5 575.0 L251.2 571.2 L245.0 568.8 L240.0 563.8 L235.0 557.5 L231.2 553.8 L229.4 549.4 L236.9 545.6 L232.5 541.9 L237.5 537.5 L237.5 531.2 L232.5 526.2 L228.8 521.2 L230.0 516.2 L227.5 511.9 L222.5 507.5 L217.5 502.5 L211.2 496.2 L207.5 490.0 L202.5 486.2 L196.2 481.2 L190.0 477.5 L189.4 472.5 L186.2 469.4 L177.5 465.0 L172.5 462.5 L166.2 459.4 L163.8 455.0 L166.2 451.2 L170.6 448.8 L167.5 445.0 L162.5 440.6 L157.5 439.4 L155.0 434.4 L147.5 431.2 L144.4 426.2 L145.0 421.2 L138.8 420.6 L131.9 419.4 L126.2 419.0Z"/>
<path d="M126.2 448.8 L131.9 450.0 L136.9 454.4 L133.8 458.1 L137.5 463.8 L141.2 470.0 L145.0 471.2 L142.5 476.2 L143.8 482.5 L148.8 486.2 L151.2 482.5 L147.5 479.4 L150.0 478.1 L154.4 483.8 L158.1 482.5 L158.8 488.8 L161.2 493.8 L165.6 498.8 L164.4 503.1 L160.6 505.6 L155.6 508.1 L153.1 505.6 L151.9 500.0 L148.8 496.2 L143.8 493.1 L137.5 488.1 L131.9 485.6 L126.2 485.0Z"/>
<path d="M2073.0 272.9 L2067.7 273.4 L2059.8 275.7 L2052.3 278.5 L2046.7 282.2 L2042.9 285.4 L2039.2 284.1 L2031.7 286.9 L2026.0 289.2 L2020.4 293.5 L2012.9 296.3 L2005.4 296.3 L1997.9 295.9 L1994.1 293.5 L1986.6 295.4 L1979.1 294.8 L1967.8 295.9 L1960.3 293.5 L1954.7 289.2 L1951.9 284.1 L1943.4 286.0 L1941.6 290.7 L1937.8 300.1 L1932.2 309.5 L1927.5 316.0 L1919.0 319.8 L1909.6 323.5 L1898.4 328.2 L1892.7 333.9 L1886.2 341.4 L1885.6 347.9 L1881.5 352.6 L1877.7 358.3 L1875.9 365.8 L1876.2 373.3 L1879.6 378.9 L1878.7 384.6 L1874.9 390.2 L1870.2 395.8 L1864.6 401.4 L1857.1 405.2 L1851.4 409.9 L1845.8 414.6 L1838.3 417.4 L1828.9 419.3 L1822.3 420.6 L1819.5 425.9 L1816.7 431.5 L1813.9 439.0 L1810.1 442.7 L1802.6 446.5 L1797.0 450.3 L1795.1 455.9 L1792.3 461.5 L1790.4 465.3 L1789.5 471.8 L1787.6 477.5 L1782.0 481.2 L1776.4 486.9 L1771.7 491.6 L1768.8 499.1 L1766.0 506.6 L1762.3 516.0 L1757.6 518.8 L1754.8 523.5 L1753.5 531.0 L1751.0 542.2 L1753.8 541.9 L1759.5 545.6 L1765.1 550.3 L1767.0 555.0 L1764.2 560.7 L1762.3 568.2 L1766.0 573.8 L1768.8 581.3 L1770.3 590.7 L1769.8 598.2 L1767.0 605.7 L1763.2 613.2 L1761.0 620.7 L1760.4 628.2 L1757.6 633.9 L1752.9 640.4 L1748.2 645.1 L1744.4 647.4 L1750.1 649.8 L1753.8 655.5 L1756.6 662.0 L1758.5 667.7 L1755.7 671.4 L1756.6 678.9 L1756.6 686.4 L1760.4 690.2 L1765.1 693.9 L1770.7 697.7 L1776.4 701.4 L1780.1 707.1 L1784.8 711.8 L1789.5 715.5 L1794.2 720.2 L1798.9 724.9 L1805.5 729.6 L1811.1 734.3 L1814.8 739.9 L1818.6 744.6 L1817.7 752.1 L1819.5 758.7 L1823.3 764.3 L1824.2 770.0 L1830.8 772.8 L1840.2 777.5 L1847.7 782.2 L1853.3 786.9 L1860.8 792.5 L1868.3 796.2 L1875.9 802.8 L1883.4 809.4 L1890.9 814.1 L1900.3 818.8 L1907.8 822.5 L1914.3 826.3 L1922.8 821.6 L1934.0 816.9 L1945.3 813.1 L1956.6 811.3 L1967.8 810.3 L1979.1 810.0 L1988.5 812.2 L1997.9 814.5 L2005.4 816.9 L2010.1 819.3 L2016.6 816.0 L2026.0 812.2 L2035.4 808.5 L2044.8 804.7 L2052.3 801.9 L2059.8 800.0 L2067.7 796.2 L2073.0 795.3Z"/>
<path d="M1894.6 249.4 L1892.7 258.8 L1890.9 264.0 L1898.4 262.9 L1905.9 264.0 L1910.6 264.4 L1917.2 262.2 L1924.7 261.6 L1932.2 263.5 L1935.9 268.2 L1937.8 273.8 L1943.4 278.5 L1950.0 283.2 L1954.7 275.7 L1962.2 273.8 L1969.7 270.0 L1979.1 269.1 L1988.5 270.0 L1997.9 270.0 L2003.5 268.2 L2008.2 269.1 L2012.9 263.5 L2016.6 257.8 L2024.2 254.6 L2032.6 254.1 L2033.5 249.4Z"/>
<path d="M585.0 525.0 L592.5 521.2 L594.4 516.9 L600.0 511.9 L608.8 507.5 L617.5 505.0 L626.2 503.8 L631.2 501.9 L640.0 502.5 L647.5 503.5 L657.5 503.8 L665.0 506.2 L670.0 506.9 L675.0 509.4 L680.0 513.8 L685.0 515.6 L692.5 515.0 L697.5 513.1 L703.8 516.2 L710.0 521.9 L716.2 527.5 L722.5 531.9 L730.0 535.0 L737.5 537.5 L745.0 538.8 L746.2 541.9 L743.8 544.4 L750.0 545.0 L757.5 545.6 L763.8 549.4 L770.0 551.9 L771.2 554.4 L766.2 555.0 L760.0 555.6 L755.0 558.8 L747.5 559.4 L737.5 558.1 L727.5 558.1 L717.5 559.4 L710.0 560.0 L709.4 557.5 L713.8 553.1 L718.8 551.2 L719.4 547.5 L715.0 545.0 L707.5 544.4 L702.5 543.8 L697.5 540.0 L695.0 535.0 L693.8 530.0 L690.0 528.1 L683.8 530.0 L677.5 527.5 L671.2 526.2 L667.5 523.8 L662.5 520.6 L655.0 520.6 L647.5 521.2 L640.0 520.0 L635.0 518.1 L632.5 515.6 L638.8 514.4 L641.9 513.1 L640.0 510.6 L632.5 510.6 L622.5 510.6 L617.5 513.1 L612.5 516.9 L606.2 518.8 L601.2 523.1 L593.8 526.9 L591.2 524.4Z"/>
<path d="M617.5 524.4 L622.5 523.5 L626.2 526.9 L626.0 530.6 L621.2 532.5 L616.2 531.5 L615.6 529.4 L618.1 528.1Z"/>
<path d="M697.5 586.9 L702.5 583.1 L710.0 582.2 L717.5 583.1 L725.0 585.0 L731.2 588.1 L735.0 591.2 L735.0 593.8 L728.8 594.4 L722.5 593.1 L718.8 596.9 L715.0 594.4 L708.8 593.8 L705.0 589.4 L700.0 588.1Z"/>
<path d="M782.5 560.6 L787.5 559.4 L795.0 560.0 L802.5 561.2 L810.0 561.9 L813.8 560.0 L821.2 558.8 L825.0 557.5 L830.0 559.8 L837.5 561.9 L843.8 563.1 L845.0 567.5 L848.1 570.0 L856.2 573.1 L862.5 574.4 L867.5 577.5 L871.2 581.2 L870.6 585.0 L867.5 587.5 L865.6 590.0 L862.5 588.1 L863.1 585.0 L857.5 584.4 L850.0 583.8 L843.8 584.4 L838.8 587.5 L833.8 588.1 L831.2 584.4 L826.2 585.6 L822.5 590.0 L820.0 595.0 L818.1 598.1 L815.0 595.0 L811.9 590.0 L808.8 586.9 L800.0 587.5 L792.5 588.8 L785.0 587.5 L780.0 588.1 L775.0 590.6 L771.2 587.5 L766.2 586.2 L765.0 583.1 L767.5 580.0 L777.5 580.6 L786.2 581.9 L795.0 583.1 L801.2 581.9 L801.9 579.4 L797.5 576.2 L795.6 572.5 L795.0 567.5 L790.0 565.0 L783.1 563.1Z"/>
<path d="M888.8 585.0 L891.2 582.5 L900.0 582.2 L910.0 583.1 L916.2 583.8 L918.1 586.2 L916.2 589.4 L912.5 591.9 L905.0 592.5 L897.5 591.9 L891.2 593.1 L889.4 590.0 L890.0 587.5Z"/>
<path d="M985.9 716.5 L997.1 714.6 L998.1 719.3 L996.2 726.8 L987.7 727.4 L988.7 721.2Z"/>
<path d="M778.8 538.8 L781.2 536.2 L786.2 535.6 L790.0 533.8 L791.0 536.9 L788.8 540.0 L783.8 541.5 L779.4 541.0Z"/>
<path d="M1736.0 405.2 L1739.7 405.2 L1741.1 409.0 L1739.2 411.2 L1736.9 409.9Z" stroke-width="2.2"/>
<path d="M1733.2 423.6 L1737.9 422.1 L1736.9 425.9 L1734.7 425.9Z" stroke-width="2.2"/>
<path d="M1747.3 416.5 L1750.1 415.5 L1751.6 418.0 L1749.1 419.8Z" stroke-width="2.2"/>
<path d="M1754.8 413.6 L1762.3 411.2 L1767.0 409.9 L1765.1 413.6 L1760.4 419.8 L1756.6 417.4Z" stroke-width="2.2"/>
<path d="M1773.5 418.3 L1778.2 416.5 L1781.6 419.3 L1780.1 423.6 L1775.4 424.0 L1772.6 421.2Z" stroke-width="2.2"/>
<path d="M1797.9 418.3 L1802.6 414.6 L1805.5 408.0 L1808.3 407.1 L1807.3 414.6 L1803.6 417.4Z" stroke-width="2.2"/>
<path d="M1807.3 401.4 L1813.0 398.6 L1814.3 401.4 L1810.1 404.3Z" stroke-width="2.2"/>
<path d="M706.9 485.0 L710.0 483.1 L713.1 485.6 L713.5 490.6 L710.6 493.1 L707.5 491.2Z" stroke-width="2.2"/>
<path d="M983.1 620.0 L986.2 618.8 L988.1 616.2 L991.2 618.8 L992.5 621.9 L990.0 623.1 L988.1 626.2 L985.0 626.9 L983.1 623.8Z" stroke-width="2.2"/>
<path d="M988.8 633.1 L991.9 632.5 L993.5 635.6 L992.5 639.4 L990.0 639.4 L988.5 636.2Z" stroke-width="2.2"/>
<path d="M993.1 645.0 L996.2 646.2 L1000.0 650.6 L999.4 653.1 L996.9 652.5 L994.0 648.8Z" stroke-width="2.2"/>
<path d="M995.6 659.4 L998.1 658.5 L999.4 661.9 L998.1 665.2 L996.0 665.0 L995.2 661.9Z" stroke-width="2.2"/>
<path d="M836.9 696.2 L840.0 692.2 L845.0 693.1 L846.9 697.5 L845.6 701.9 L843.5 704.4 L840.0 703.8 L837.5 701.2Z" stroke-width="2.2"/>
<path d="M701.2 468.8 L705.0 468.8 L708.8 477.5 L706.2 482.5 L701.2 481.2 L698.0 476.2Z" stroke-width="2.2"/>
<path d="M815.0 720.0 L810.0 726.2 L805.6 732.5 L810.0 738.8 L812.5 745.0 L818.8 745.6 L823.8 740.0 L823.8 732.5 L820.0 726.2 L816.9 721.2Z"/>
</g>
<g stroke="#000" stroke-width="2.25" stroke-linejoin="round" stroke-linecap="round" fill="none">
<path d="M127.5 361.8 L183.8 362.0 L185.5 355.0 L212.5 354.5 L218.8 358.8 L230.0 367.5 L240.0 373.8 L244.2 380.0 L246.2 387.5 L250.0 392.5 L260.0 398.0 L271.2 402.5 L276.2 397.5 L280.0 390.0 L286.2 388.5 L301.2 389.2 L312.5 398.8 L317.5 407.5 L323.8 417.5 L333.8 426.2 L336.2 436.2 L341.2 446.2 L357.5 453.2 L363.8 453.2 L371.2 455.5 L373.8 457.5 M460.6 650.0 L460.0 638.8 L463.8 631.2 L468.8 624.4 L491.2 624.0 L491.2 619.4 L487.5 613.1 L481.2 608.8 L474.4 604.4 L481.2 603.5 L481.2 594.4 L512.5 594.0 L511.9 627.5 M512.5 594.0 L515.0 591.2 L520.0 592.5 L525.0 583.8 L532.5 581.9 M526.2 630.0 L520.0 637.5 L512.5 641.2 L513.1 648.8 L508.1 653.1 L503.8 657.5 L496.2 663.1 M508.1 653.1 L515.0 656.2 L525.0 662.5 L530.0 660.0 L537.5 662.5 L536.2 670.0 L538.8 676.2 M542.5 677.5 L550.0 676.9 L553.8 671.2 L555.0 665.0 L562.5 663.1 L566.2 658.8 L571.2 662.5 L580.0 656.2 L583.8 648.8 L586.2 645.6 L592.5 649.4 L602.5 646.2 L612.5 642.5 M571.2 708.8 L573.8 707.5 L581.2 710.6 L586.2 711.9 L591.2 710.0 L597.5 713.8 L602.5 715.6 L607.5 715.0 M620.0 733.8 L619.4 740.0 L620.6 745.0 L623.1 747.5 L620.0 751.2 L621.2 757.5 M725.6 765.0 L721.2 767.5 L715.6 769.4 M807.5 703.1 L802.5 710.0 L796.2 717.5 L791.2 727.5 L787.5 737.5 L783.8 742.5 L788.8 741.2 L795.0 743.8 L797.5 752.5 L801.2 758.8 L800.0 768.8 L803.8 773.8 L807.5 780.0 L815.0 778.8 L823.8 780.6 L831.2 778.1 L840.0 780.6 L846.2 787.5 L851.2 794.4 L857.5 795.0 L867.5 794.2 L883.8 792.5 L886.2 798.0 L881.2 808.0 L878.8 818.0 L880.0 829.2 M1014.0 760.6 L1012.1 762.5 L1004.6 766.2 L1001.8 772.8 L1008.4 778.4 L1004.6 782.2 L994.3 785.0 L993.4 791.6 L990.5 799.1 L997.1 806.6 L1003.7 811.3 L1011.2 810.3 L1012.1 816.0 L1004.6 817.8 L997.1 821.6 L987.7 825.3 L984.0 829.1 M1011.2 821.6 L1017.8 823.5 L1018.7 829.1 M1062.8 796.2 L1061.9 806.6 L1059.1 814.1 L1051.6 816.0 L1048.7 829.1 M1117.3 801.9 L1113.5 808.5 L1109.8 816.0 L1109.8 829.1 M1152.9 820.7 L1152.0 829.1 M1038.4 782.2 L1038.0 789.7 M813.8 560.0 L811.9 567.5 L813.1 573.8 L811.2 580.0 L808.8 583.1 L811.2 587.5 M1917.2 250.3 L1916.2 256.9 L1918.1 261.6 M2007.3 297.3 L2012.9 300.1 L2014.8 309.5 L2016.6 318.8 L2017.6 328.2 L2020.4 335.7 L2026.0 341.4 L2024.2 348.9 L2012.9 348.5 L2001.6 348.5 L1994.1 350.8 L1992.2 354.5 L1980.0 356.4 L1980.0 363.9 L1982.9 367.7 L1975.3 369.5 L1967.8 373.3 L1960.3 376.1 L1954.7 384.6 L1945.3 387.4 L1934.0 389.2 L1930.3 393.0 L1922.8 391.7 L1915.3 394.9 L1905.9 400.5 L1896.5 407.1 L1896.5 453.6 L1838.9 453.6 L1838.9 497.2 L1828.9 500.0 L1819.5 507.5 L1821.4 523.5 L1822.3 533.8 L1753.5 533.8 M1819.5 425.5 L1896.5 425.5 M1896.5 431.5 L1961.3 470.5 L2073.0 542.2 M1932.2 471.8 L1961.3 470.5 M1932.2 472.8 L1942.5 556.9 M1941.6 540.0 L1944.4 573.8 L1949.1 617.0 L1953.8 620.7 L1951.9 633.9 L1934.0 633.9 L1911.5 634.2 L1885.2 634.8 L1883.4 632.0 L1877.7 636.1 L1870.2 636.7 L1860.8 636.1 L1857.1 639.5 L1849.6 632.9 L1843.9 633.9 L1841.7 639.5 L1841.1 647.0 L1838.3 647.9 M1761.0 620.7 L1765.1 617.0 L1774.5 616.0 L1787.6 614.7 L1798.9 615.1 L1806.4 621.7 L1814.8 624.5 L1819.5 632.0 L1825.2 639.5 L1832.7 646.1 L1838.3 647.9 M1838.3 647.9 L1835.5 652.6 L1839.2 658.3 L1838.3 665.8 L1842.1 670.5 L1847.7 675.2 L1849.6 680.8 L1848.6 687.4 M1758.5 668.6 L1778.2 667.7 L1782.0 663.9 L1787.6 663.0 L1795.1 667.7 L1802.6 668.6 L1808.3 669.5 L1802.6 673.3 L1795.1 672.3 L1787.6 669.5 L1780.1 672.3 L1772.6 674.2 L1758.5 674.2 M1757.6 686.4 L1768.8 684.9 L1780.1 683.6 L1795.1 683.0 L1810.1 683.6 L1821.4 684.6 L1832.7 689.2 L1848.6 687.4 M1810.1 683.6 L1809.2 690.2 L1810.1 698.6 L1800.8 700.5 L1793.3 704.3 L1790.4 709.9 L1787.6 712.7 M1848.6 687.4 L1849.6 693.0 L1855.2 691.1 L1860.8 695.8 L1866.5 691.1 L1877.7 693.9 L1885.2 686.4 L1890.9 688.3 L1894.6 699.6 L1902.1 705.2 L1896.5 710.8 L1903.1 712.7 L1904.0 720.2 L1908.7 723.0 L1913.4 721.2 L1924.7 724.9 L1930.3 718.3 L1937.8 716.5 L1939.7 724.9 L1950.0 721.2 M1950.0 721.2 L1951.9 712.7 L1955.6 703.3 L1954.7 695.8 L1966.0 693.0 L1969.7 684.6 L1971.6 675.2 L1977.2 669.5 L1984.7 674.2 L1988.5 665.8 L1994.1 664.8 L1997.9 658.3 L2009.1 657.3 L2014.8 651.7 L2024.2 647.9 L2031.7 642.9 L2042.9 642.3 L2054.2 643.3 L2065.5 641.4 L2073.0 637.6 M2047.6 645.1 L2050.4 656.4 L2056.1 663.9 L2065.5 669.5 L2073.0 671.4 M2061.7 673.3 L2067.7 678.0 L2073.0 678.9 M1996.0 711.8 L2018.5 711.2 L2037.3 710.8 L2042.9 709.0 L2054.2 710.8 L2063.6 709.0 L2073.0 705.2 M1950.0 721.2 L1956.6 724.0 L1962.2 731.5 L1970.7 735.2 L1979.1 731.5 L1988.5 730.5 L1996.0 733.4 M1996.0 711.8 L1995.1 718.3 L1997.9 727.7 L1996.9 737.1 L1999.8 746.5 L2002.6 758.7 L1997.9 767.2 L1994.1 776.5 L1989.4 785.9 L1990.4 795.3 L1993.2 804.7 L1997.9 805.6 L1996.9 813.1 M2042.9 709.0 L2044.8 716.5 L2050.4 723.0 L2050.4 731.5 L2048.6 739.0 L2054.2 739.0 L2053.3 748.4 L2057.0 757.8 L2055.1 765.3 L2056.1 774.7 L2054.2 784.0 L2058.9 791.6 L2065.5 795.3 M2063.6 709.0 L2058.9 716.5 L2059.8 722.1 L2073.0 727.7 M1818.6 744.6 L1823.3 739.0 L1829.9 731.5 L1840.2 729.6 L1853.3 729.6 L1859.0 737.1 L1862.7 744.6 L1864.6 752.1 L1861.8 757.8 M1861.8 757.8 L1862.7 767.2 L1855.2 773.7 L1849.6 780.3 L1849.6 784.0 M1861.8 757.8 L1868.3 754.9 L1877.7 754.4 L1882.4 758.7 L1884.3 768.1 L1883.4 773.7 L1889.0 776.5 L1894.6 774.7 L1896.5 769.0 L1901.2 770.0 M1908.7 723.0 L1904.9 729.6 L1905.9 739.0 L1911.5 744.6 L1909.6 750.3 L1913.4 755.9 L1904.0 755.9 L1907.8 762.5 L1904.0 769.0 L1901.2 770.0 M1901.2 770.0 L1903.1 778.4 L1901.2 785.9 L1897.4 788.7 L1902.1 792.5 L1909.6 793.4 L1914.3 799.1 L1918.1 800.9 L1918.1 810.3 L1915.3 816.0 L1914.9 826.3"/>
<path stroke-width="3" d="M688.8 443.0 L695.0 441.2 L706.2 438.8 L712.5 438.8 L720.0 445.0 L721.2 450.0 L717.5 455.0 M726.2 462.0 L735.0 466.2 L737.5 471.2 L735.0 475.0 M746.2 480.0 L749.4 485.0 M738.1 494.0 L742.5 496.0 M751.2 495.0 L755.0 502.5 L759.4 506.5 M768.1 509.4 L776.2 510.6 L775.0 515.0 L768.8 519.8 M787.5 515.6 L795.0 517.1 M806.9 523.8 L814.0 526.5 M645.6 569.0 L651.5 568.1 M785.6 575.6 L794.4 578.8 M806.9 523.8 L814.0 526.5 M848.5 569.4 L856.2 570.6 M959.4 588.5 L963.5 586.9 M964.8 601.9 L969.4 604.8 M930.0 596.0 L935.6 595.6 M840.6 684.0 L844.4 687.2 M856.5 688.1 L860.0 691.9 L864.0 693.8 M869.4 689.8 L873.1 693.1 M983.5 694.4 L986.9 690.6 M999.8 709.0 L1005.0 706.2 M938.5 711.2 L942.5 712.5 L948.1 710.0 M550.6 551.9 L553.1 547.5 M557.0 620.0 L562.5 618.0"/>
</g>
<g stroke="#222" stroke-width="0.9" fill="none" stroke-linejoin="round">
<path stroke="#8e8e8e" stroke-width="1.5" d="M127.5 265.0 L419.2 265.0 M171.2 247.5 L171.2 361.8 M291.8 247.5 L291.8 265.0 M274.2 265.0 L274.2 350.8 L212.5 350.8 L212.5 354.5"/>
<path d="M274.2 273.2 L326.5 273.2 L326.5 306.2 L340.0 312.5 L355.0 315.0 L370.0 318.8 L390.0 321.2 L407.5 317.0 L421.2 322.5 L428.8 324.5 M419.5 247.5 L419.5 273.2 L422.5 290.0 L421.2 322.5 M419.5 273.2 L497.5 273.2 L500.0 277.5 L493.8 282.0 L502.5 282.0 M428.8 324.5 L429.2 333.8 L429.2 350.0 L433.8 357.5 L437.5 367.5 L435.0 380.0 L433.8 389.5 M429.2 333.8 L480.0 333.8 M506.2 247.5 L508.8 263.8 L511.2 270.0 L502.5 282.0 L496.2 293.8 L492.5 300.0 L486.2 310.0 L480.0 317.5 L478.0 327.5 L480.0 333.8 L478.8 342.5 L481.2 346.2 L475.0 355.0 L470.5 367.5 L502.5 368.8 L503.8 376.2 L507.5 380.0 M508.8 263.8 L515.0 265.0 L530.0 256.2 L531.2 247.5 M503.8 272.5 L532.5 271.2 L607.5 272.0 L675.0 272.5 L736.2 272.5 M492.5 299.5 L615.0 299.5 M530.8 300.0 L525.0 335.0 L524.2 352.5 L525.5 377.0 M574.2 300.0 L580.0 322.5 L586.2 345.0 L582.5 355.0 L583.8 367.5 L585.0 372.0 M540.0 377.0 L540.0 368.8 L583.8 368.0 M585.0 372.0 L632.5 375.8 L633.8 378.8 L636.2 372.5 L645.0 371.2 M613.8 302.0 L620.0 312.5 L630.0 322.5 L637.5 330.0 L643.8 337.5 L650.0 345.0 L652.5 350.0 M613.8 302.0 L625.0 296.2 L640.0 296.2 L655.0 298.0 L657.5 302.0 L675.0 302.5 L693.8 317.0 M596.2 297.0 L607.5 287.5 L625.0 282.5 L637.5 275.0 L642.5 272.5 M607.5 271.2 L620.0 263.8 L632.5 258.8 L631.2 252.5 M631.2 252.5 L635.0 253.8 L647.5 260.0 L665.0 256.2 L666.2 247.5"/>
</g>
<g fill="#000">
<circle cx="932.5" cy="345.5" r="2.2"/>
<circle cx="765.0" cy="487.5" r="2.2"/>
<circle cx="822.5" cy="531.9" r="1.4"/>
<circle cx="822.5" cy="531.9" r="1.5"/>
<circle cx="928.8" cy="585.2" r="1.9"/>
<circle cx="934.4" cy="584.0" r="1.9"/>
<circle cx="938.5" cy="583.1" r="1.9"/>
<circle cx="920.0" cy="589.4" r="1.9"/>
<circle cx="983.1" cy="597.8" r="2.2"/>
<circle cx="976.5" cy="613.1" r="2.2"/>
<circle cx="992.2" cy="627.1" r="2.2"/>
<circle cx="922.9" cy="712.9" r="2.2"/>
<circle cx="983.5" cy="607.5" r="2.7"/>
<circle cx="993.5" cy="672.8" r="2.7"/>
<circle cx="1021.9" cy="674.4" r="2.7"/>
<circle cx="1764.2" cy="702.4" r="2.0"/>
<circle cx="1770.7" cy="703.3" r="2.0"/>
<circle cx="1775.4" cy="707.1" r="2.0"/>
<circle cx="1767.9" cy="709.9" r="2.0"/>
<circle cx="214.5" cy="530.0" r="2.4"/>
<circle cx="137.5" cy="578.0" r="2.4"/>
<circle cx="535.0" cy="601.2" r="2.0"/>
<circle cx="641.2" cy="685.0" r="2.0"/>
<circle cx="688.8" cy="757.2" r="2.0"/>
<circle cx="640.0" cy="772.5" r="2.0"/>
<circle cx="1613.2" cy="609.1" r="4.2"/>
<circle cx="1617.5" cy="612.5" r="3.0"/>
<circle cx="1628.6" cy="615.5" r="2.8"/>
<circle cx="1651.0" cy="613.6" r="2.6"/>
<circle cx="1653.3" cy="624.2" r="3.2"/>
<circle cx="1646.9" cy="638.9" r="2.2"/>
<circle cx="1639.5" cy="641.5" r="3.3"/>
<circle cx="1626.0" cy="644.0" r="3.0"/>
<circle cx="1613.6" cy="265.3" r="2.2"/>
<circle cx="1608.0" cy="251.5" r="2.6"/>
<circle cx="1753.4" cy="338.0" r="2.4"/>
<circle cx="1751.0" cy="337.4" r="2.2"/>
<circle cx="1756.0" cy="338.6" r="2.2"/>
</g>
</g>
<rect x="130" y="250" width="1940" height="580" fill="none" stroke="#000" stroke-width="5"/>
<g stroke="#dfdfdf" stroke-width="2.8" stroke-dasharray="8.33 8.33" fill="none">
<path d="M128.75 815.1H2072"/>
<path d="M128.75 729.2H2072"/>
<path d="M128.75 643.2H2072"/>
<path d="M128.75 557.2H2072"/>
<path d="M128.75 471.3H2072"/>
<path d="M128.75 385.3H2072"/>
<path d="M128.75 299.4H2072"/>
<path d="M326.3 831.6V250"/>
<path d="M670.1 831.6V250"/>
<path d="M1013.9 831.6V250"/>
<path d="M1357.7 831.6V250"/>
<path d="M1701.5 831.6V250"/>
<path d="M2045.3 831.6V250"/>
</g>
<g stroke="#d0d0d0" stroke-opacity=".8" stroke-width="2" fill="none">
<path d="M124.6 815.1H132.5M2067.5 815.1H2075.4"/>
<path d="M124.6 729.2H132.5M2067.5 729.2H2075.4"/>
<path d="M124.6 643.2H132.5M2067.5 643.2H2075.4"/>
<path d="M124.6 557.2H132.5M2067.5 557.2H2075.4"/>
<path d="M124.6 471.3H132.5M2067.5 471.3H2075.4"/>
<path d="M124.6 385.3H132.5M2067.5 385.3H2075.4"/>
<path d="M124.6 299.4H132.5M2067.5 299.4H2075.4"/>
<path d="M326.3 827.5V835.5"/>
<path d="M670.1 827.5V835.5"/>
<path d="M1013.9 827.5V835.5"/>
<path d="M1357.7 827.5V835.5"/>
<path d="M1701.5 827.5V835.5"/>
<path d="M2045.3 827.5V835.5"/>
</g>
<g font-size="19.2" fill="#707070" font-family="Liberation Sans, sans-serif">
<text x="119.6" y="822.1" text-anchor="end">5°N</text>
<text x="2080" y="822.1">5°N</text>
<text x="119.6" y="736.2" text-anchor="end">10°N</text>
<text x="2080" y="736.2">10°N</text>
<text x="119.6" y="650.2" text-anchor="end">15°N</text>
<text x="2080" y="650.2">15°N</text>
<text x="119.6" y="564.2" text-anchor="end">20°N</text>
<text x="2080" y="564.2">20°N</text>
<text x="119.6" y="478.3" text-anchor="end">25°N</text>
<text x="2080" y="478.3">25°N</text>
<text x="119.6" y="392.3" text-anchor="end">30°N</text>
<text x="2080" y="392.3">30°N</text>
<text x="119.6" y="306.4" text-anchor="end">35°N</text>
<text x="2080" y="306.4">35°N</text>
<text x="326.3" y="854.2" text-anchor="middle">100°W</text>
<text x="670.1" y="854.2" text-anchor="middle">80°W</text>
<text x="1013.9" y="854.2" text-anchor="middle">60°W</text>
<text x="1357.7" y="854.2" text-anchor="middle">40°W</text>
<text x="1701.5" y="854.2" text-anchor="middle">20°W</text>
<text x="2045.3" y="854.2" text-anchor="middle">0°</text>
</g>
<g stroke="#8c8c8c" stroke-width="1.4">
<path d="M498.2 829.5V836"/>
<path d="M1529.6 829.5V836"/>
</g>
</g>
<g id="footer">
<text x="50" y="1604.6" font-size="39.2" font-weight="bold">Issued: 10/14/2025</text>
<text x="50" y="1656" font-size="39.2" font-weight="bold">Forecaster: Collow</text>
<text x="800" y="1599" font-size="33.4" font-weight="bold" text-anchor="middle">Tropical Cyclone (TC)</text>
<text x="800" y="1637" font-size="33.4" font-weight="bold" text-anchor="middle">Formation Probability</text>
<text x="800.5" y="1672.8" font-size="24.9" font-style="italic" text-anchor="middle">Tropical Depression (TD) or greater strength</text>
<rect x="1120.3" y="1567.3" width="133" height="65.6" fill="url(#hl)" stroke="#ddd" stroke-width="1"/>
<rect x="1253.5" y="1567.3" width="133" height="65.6" fill="#ff0000" stroke="#000" stroke-width="1"/>
<rect x="1386.5" y="1567.3" width="133" height="65.6" fill="#700000" stroke="#000" stroke-width="1"/>
<g font-size="37.5" font-weight="bold" text-anchor="middle">
<text x="1178" y="1676.3">&gt;20%</text>
<text x="1319.6" y="1676.3">&gt;40%</text>
<text x="1461.2" y="1676.3">&gt;60%</text>
</g>
<g font-size="24" font-weight="bold" fill="#ff0000" text-anchor="middle">
<text x="1875.5" y="1591.2">This product is updated once per week and targets</text>
<text x="1875.5" y="1618.9">broad scale conditions integrated over a 7-day</text>
<text x="1875.5" y="1646.1">period for US interests only. Consult your local</text>
<text x="1875.5" y="1673.8">responsible forecast agency.</text>
</g>
</g>

</svg></body></html>
